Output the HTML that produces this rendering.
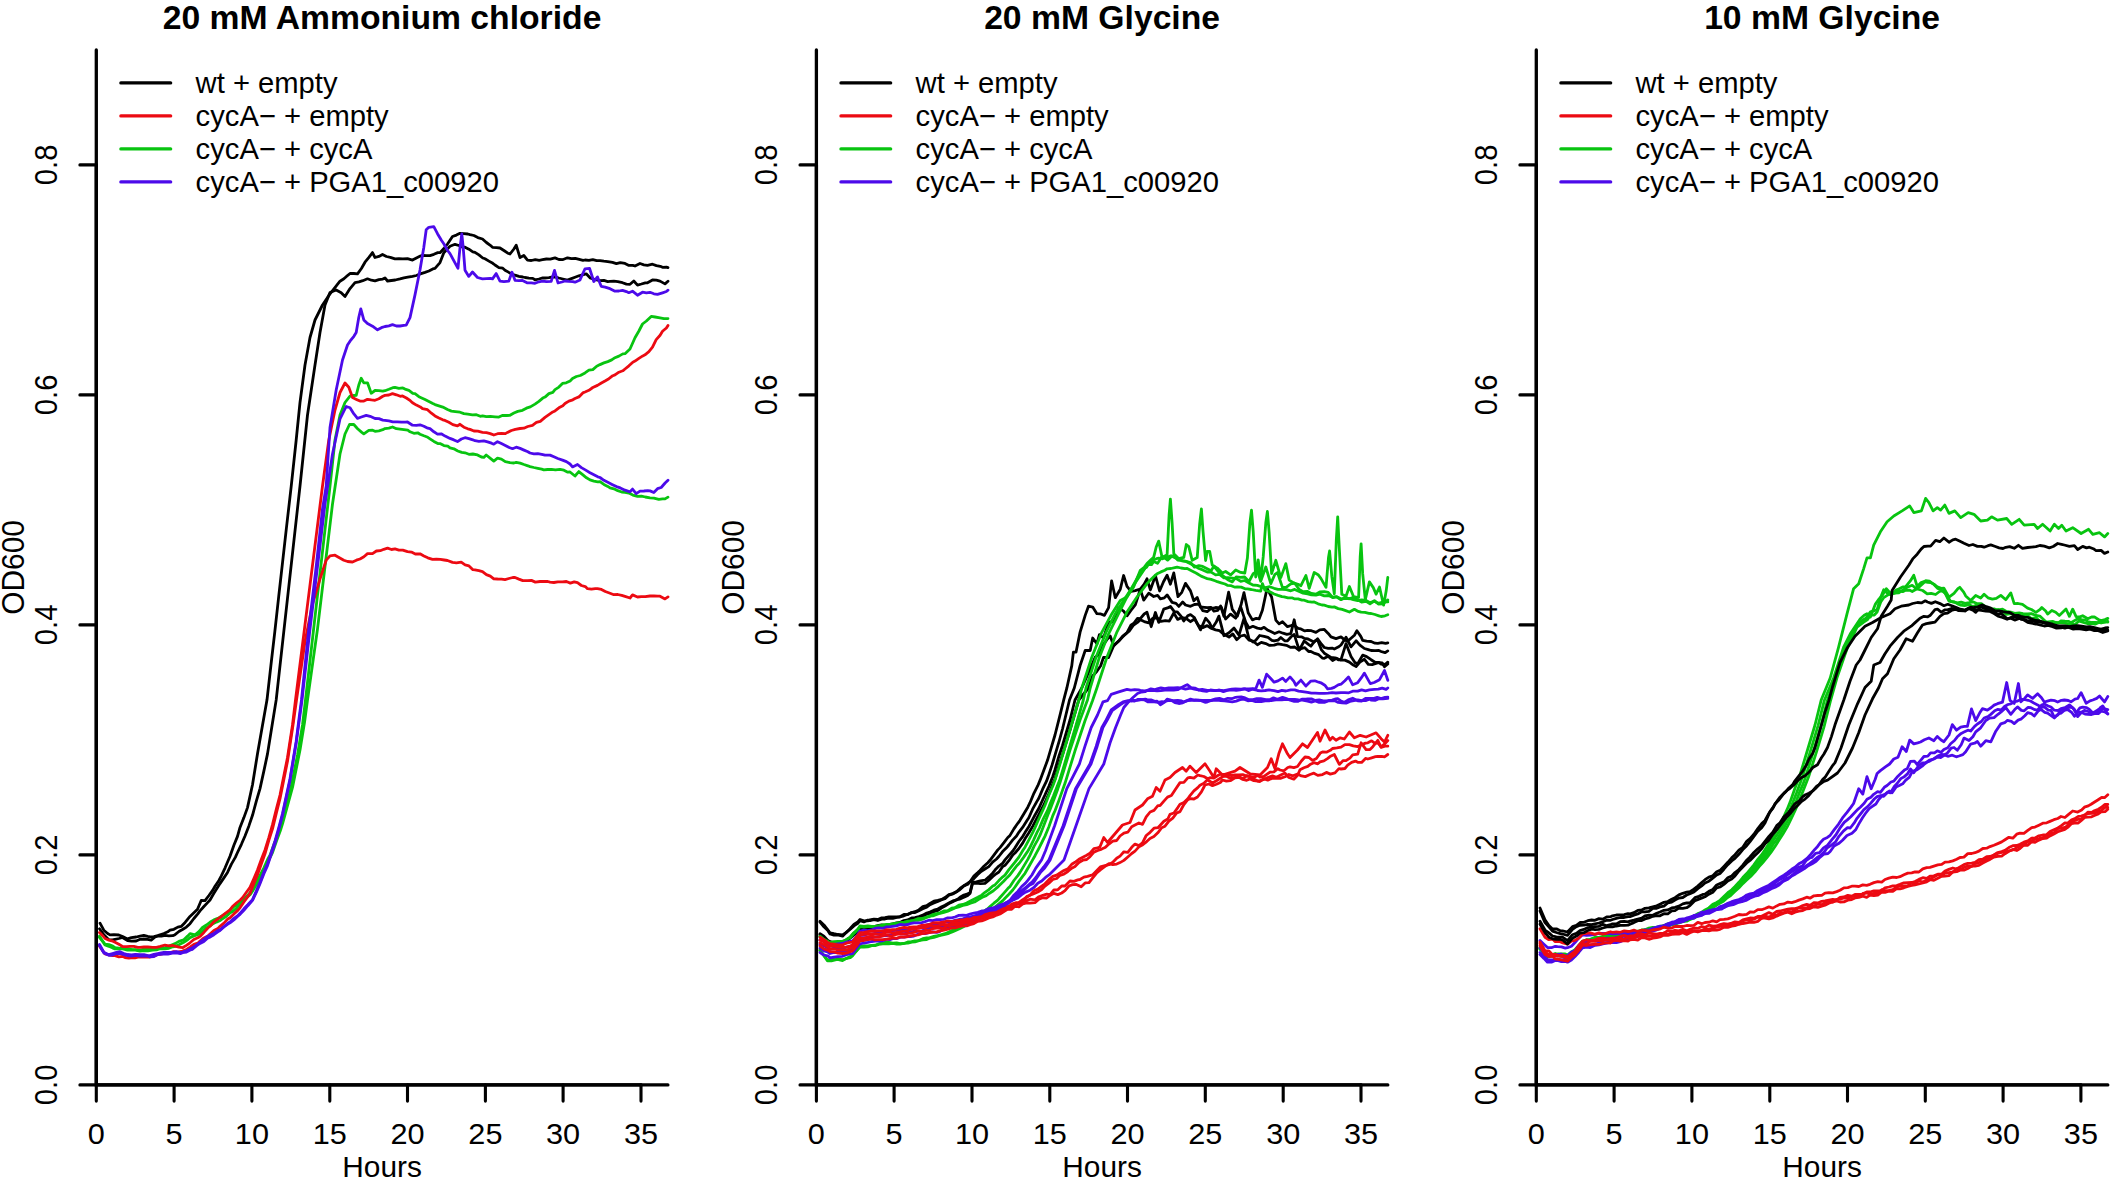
<!DOCTYPE html>
<html><head><meta charset="utf-8"><title>Growth curves</title>
<style>html,body{margin:0;padding:0;background:#fff}svg{display:block}text{font-family:"Liberation Sans",Arial,Helvetica,sans-serif;fill:#000}</style></head><body>
<svg width="2113" height="1184" viewBox="0 0 2113 1184">
<rect width="2113" height="1184" fill="#fff"/>
<g id="panel1">
<g fill="none" stroke-width="2.8" stroke-linejoin="round" stroke-linecap="round">
<polyline stroke="#000000" points="100,923.2 103.8,930.2 107.6,933.5 110,934.9 113.9,934.7 118.8,935 122.6,936.5 127.5,938.9 131.4,937.7 136.2,937 140.1,936.1 143.8,935.3 147.6,936.3 150,936.8 153.9,936.6 157.8,935.6 160,934.8 163.9,933.6 167.8,931.8 170,930.2 173.9,929.3 177.8,927.1 181.2,926.4 185.1,922.4 190,916.4 193.9,912.7 197.5,909.2 201.2,900.5 205,900.6 208.9,895.5 212.8,890.1 215,886.2 218.9,880.5 221.2,876.1 225.1,867.8 230,856.3 233.9,845.2 237.5,836.4 240,827.4 243.9,817.6 247.5,807.6 252.5,784.7 257.5,753.7 262.5,725.3 267,699.8 270.9,665.5 274.8,631.9 278.7,596.7 282.5,562.9 286.4,528.2 291.2,486.3 296.2,440 300,402.5 305,365 310,337.5 315,320 322.5,305 330,293.8 340,281.2 343.9,278.8 347.8,275.3 350,273.5 353.9,273.5 357.5,273.8 361.4,268.5 365,262.2 368.9,257.4 372.5,252.6 375,257.5 378.9,256.4 382.5,254.5 386.4,256.5 390.3,257.3 395,258.8 398.9,258.7 402.8,258.9 407.5,258.7 412.5,260.1 416.4,258 420.3,256.1 422.5,255.3 426.4,255.7 430,255.6 433.9,254.3 437.8,252.6 440,252.7 443.9,248.5 447.5,244 452.5,236.5 456.4,235.1 460,233.3 463.9,233.6 467.8,234 470,234.6 473.9,235.5 477.8,237.6 482.5,239 486.4,242.5 490.3,245.3 492.5,247.3 496.4,247.6 500,248 503.9,250.5 507.8,253.2 510,254 513.9,249 516.2,245.2 520,257.6 523.8,255.5 527.5,260.1 531.4,260.5 535.3,259.6 539.2,260.3 542.5,259.7 546.4,259 550.3,259.2 555,257.9 558.9,259.5 562.5,259.7 567.5,257.8 571.4,258.7 575.3,258.3 579.2,259.4 583,260.4 585,260 588.9,260.4 592.8,259.6 596.7,260.6 600,260.6 603.9,261.2 607.8,261.6 612.5,262.4 616.4,263.6 620.3,262.6 625,263.4 628.9,265.4 632.8,265.3 635,266 640,263.5 643.9,264.8 647.5,265.3 652.5,264.2 656.4,265.6 660.3,266.3 662.5,267.3 666.4,267.1 668,267.6"/>
<polyline stroke="#000000" points="99.5,928.8 103.8,934.7 108.8,939.7 112.6,939.9 115,939.3 118.9,938.5 122.5,937.5 127.5,940.6 131.4,941.2 136.2,941 140.1,939.3 143.8,939 147.6,939.3 151.2,940.2 155.1,937 157.5,936.2 161.4,936.2 165,935.3 168.9,935.9 172.8,935.7 175,934.7 178.9,931.5 182.5,929.5 186.4,927.1 190,923.7 193.9,918.5 197.8,913.9 200,910.9 203.9,906.5 207.8,902.4 210,900 213.9,893.3 217.8,887 220,883.6 223.9,877.9 227.5,872.4 231.4,864.1 235.3,857.4 237.5,852.5 241.4,844.3 245,836 248.9,825.9 252.5,815.3 256.4,800.9 260,788.6 263.9,770.9 267.5,753.9 272.5,722.8 276.2,699.9 300,486 307.5,415 315,365 320,332.5 325,305 330,292.5 336.2,290 341.2,292.7 345,296.4 350,288.6 355,282.6 358.9,281.9 362.8,280.7 367.5,278.8 371.4,280.2 375,280.9 378.9,279.6 382.8,279.1 385,277.9 387.5,281 391.4,280.5 395.3,280 400,278.9 403.9,277.8 407.8,277.1 412.5,276.3 416.4,275.5 420.3,273.9 425,272.4 428.9,271 432.8,268.9 435,268.4 440,262.6 443.8,252.8 447.6,248.7 450,246.2 455,244.3 458.9,245.5 462.8,247.1 465,247.2 468.9,249.2 472.8,251.8 475,252.3 478.9,254.9 482.8,258 485,258.8 488.9,261.1 492.8,263.3 495,265 498.9,267.6 502.8,268.2 505,270.2 508.9,272.4 512.8,274.4 515,275.2 518.9,276.4 522.8,277 525,277.5 528.9,278.2 532.8,278.4 535,279.8 538.9,279 542.8,277.9 545,278 548.9,277.6 552.8,277 555,276.9 558.9,278 562.8,279 567.5,280.1 571.4,278.6 575,277.2 578.9,275.8 582.5,274.8 586.2,273.8 590,277.8 593.9,279.1 597.8,280.2 600,280.7 603.9,280.4 607.8,281.6 610,281.4 613.9,281.2 617.8,281.7 622.5,282.7 626.4,284.1 630,284.3 633.8,281 637.5,285.1 641.4,284 645.3,282.8 647.5,282.8 652.5,280 656.4,280.2 660,281.1 665,283.9 668,281.2"/>
<polyline stroke="#08C410" points="99.5,936.2 103.4,942.2 105,944.1 108.9,944.6 112.8,946.1 115,947.7 118.9,948.2 122.8,948.5 127.5,948.6 131.4,949.3 135.3,949.7 140,950.1 143.9,949.1 147.8,949.1 152.5,948.7 156.4,948.7 160.3,948.7 165,947.8 168.9,946.1 172.8,944.5 175,943.6 178.9,941.4 183.8,939.7 187.6,936.1 190,933.6 195,934.9 198.9,931.7 202.5,927.5 206.4,925 210,922.3 213.9,919.9 217.8,918.4 220,917.2 223.9,914.6 227.8,912.4 230,910.1 233.9,906.6 237.8,904.7 240,902.7 243.9,898.9 247.8,895.3 250,892.7 253.9,886.1 257.8,878.7 260,875.3 263.9,867.9 267.8,859 270,855.2 273.9,844.6 277.8,833.6 280,827.5 290,792.5 297.5,755 302.5,725 305.5,700 330,486 335,440 340,415 345,402.5 350,396.2 353.9,395.5 356.2,395.3 358.8,385 361.2,378.3 363.8,382.9 367.5,382.8 371.2,393.3 375,390.5 378.9,390.6 382.8,391.2 385,390.7 388.9,389.3 392.8,387.7 395,387.4 398.9,388.3 402.8,387.9 405,389.1 408.9,390.3 412.8,393.3 415,393.6 418.9,396.7 422.8,398.5 425,399.5 428.9,401.5 432.8,403.6 435,404.6 438.9,405.8 442.8,407.1 447.5,409.5 451.4,411.1 455.3,411.6 460,412.2 463.9,413.6 467.8,414.1 472.5,414.8 476.4,414.7 480.3,416.3 482.5,415.9 486.4,416.7 490.3,416.4 495,416.8 498.9,417.1 502.8,415.3 506.7,415.5 510,415.3 513.9,413 517.8,411.4 522.5,410.3 526.4,408.2 530.3,406.9 535,404.1 538.9,401.4 542.8,398.1 545,397.1 548.9,393.6 552.8,392.3 555,389.6 558.9,387.1 562.5,383.4 566.2,382.8 570.1,380.9 572.5,378.5 576.4,376.5 580.3,375.5 585,372.9 588.9,370.2 592.8,369.6 596.7,366.2 600,364.6 603.9,362.9 607.8,361.6 611.7,359.9 615,357.7 618.9,356.1 622.8,353.9 625,353.7 630,349 635,337.7 638.9,331 642.5,324 646.4,321 651.2,316.4 655.1,317 660,317.8 663.9,318.6 668,318.6"/>
<polyline stroke="#08C410" points="99.5,937.5 103.4,942.4 105,945 108.9,946.3 112.8,948.1 115,948.8 118.9,948.5 122.8,948.8 127.5,950.2 131.4,949.9 135.3,950.1 140,951.1 143.9,950.5 147.8,950.8 152.5,950 156.4,949.8 160.3,948.7 165,948.8 168.9,948.3 172.8,946.8 175,946.4 178.9,944.8 183.8,942.2 187.6,939.8 190,937.6 193.9,935.9 197.5,934.7 201.4,932.3 205,928.7 208.9,926.5 212.5,924 216.4,922.1 220.3,920.5 222.5,918.7 226.4,916.3 230.3,912.8 232.5,911.6 236.4,908.4 240.3,903.9 242.5,902.2 246.4,897.7 250.3,894.4 252.5,891.2 256.4,884.6 260.3,877.4 262.5,873.8 266.4,865.3 270.3,857 272.5,852.6 276.4,841.4 280.3,830.7 282.5,823.9 292.5,787.5 300,750 304.5,722.5 307.5,700 317.5,629 325,566.5 332.5,504 340,454 345,434 349.5,424.5 353.8,424.5 357.6,428.7 361.5,432.1 363.8,433.9 368.8,430.4 372.6,430.2 375,431.3 378.9,430.8 382.8,429.7 385,428.6 388.9,428.2 392.5,427 396.4,428.7 400,429.1 403.9,429.6 407.8,430.2 410,431.8 413.9,433.3 417.8,432.8 420,434.2 423.9,435.8 427.8,437.3 430,438.8 433.9,441.4 437.8,443.5 440,443.6 443.9,445.6 447.8,446.2 450,447.9 453.9,448.8 457.8,451 461.7,452.4 465,452.8 468.9,454.3 472.8,454 477.5,454.9 481.4,457 483.8,457.4 486.2,455 490.1,458.1 493.8,461.1 497.5,458.2 501.4,459.1 505.3,461.7 510,462.6 513.9,463 516.2,462.3 520.1,463.1 524,464.5 527.9,465.8 530,466.6 533.9,467.5 537.8,468.3 541.7,469.2 543.8,469.9 547.6,469.5 551.5,469.4 555.4,469.9 560,469.3 563.9,470.2 567.8,472.2 570,472 575,476 578.8,471.6 582.6,474.7 586.5,477.8 590,479.9 593.9,481.1 597.8,481.8 600,481.6 603.9,484.4 607.8,486.4 610,487.9 613.9,488.8 617.8,490.7 621.7,492 625,492.4 628.9,493.1 632.8,495.1 637.5,496.4 641.4,496.1 645.3,497 650,497.8 653.9,498.2 658.8,499.4 662.6,498.9 665,498.9 668,497.1"/>
<polyline stroke="#EC0A12" points="99.5,932.5 103.4,936.5 105,938.5 108.9,940.1 112.8,941.2 115,942.2 118.9,944.3 122.5,946.5 126.4,946.7 130,946.4 133.9,946.3 137.8,947.3 140,947.3 143.9,947 147.8,946.9 152.5,947.3 156.4,947.3 160.3,946.4 165,945.2 168.9,945.9 172.8,945.5 175,946.1 178.9,947.1 182.5,947.7 186.4,945.4 190,942.8 193.9,939.5 197.8,937.8 200,936.4 203.9,932.4 207.8,928 210,926.2 213.9,921.8 217.5,919.1 221.4,916.5 225.3,913.4 230,909.9 232.5,906.5 236.4,903 240.3,900 242.5,897.7 246.4,892.3 250,887.4 253.9,878.6 257.5,870 261.4,859.2 265,849.9 268.9,837.5 272.5,824.7 276.4,808.8 280,795.1 287.5,757.5 292.5,725 295.5,700 322.5,486 328.8,440 335,410 340,392.5 345,383 348.8,387.3 352.5,397.5 356.4,399.4 360,401.1 363.9,401.1 367.5,399.3 371.4,399.9 375,400.3 378.9,398.8 382.8,396.3 385,395.4 388.9,395 392.5,393.6 396.4,394.8 400.3,396.3 402.5,395.9 406.4,398 410.3,400.7 412.5,402.7 416.4,405.1 420.3,406.9 422.5,408.6 427.5,409.7 431.4,413.2 435,415.9 438.9,418 442.8,419.8 445,420.4 448.9,422.3 452.8,424.6 457.5,425.9 460,424.3 463.9,427.2 467.8,428.8 470,429.4 473.9,431 477.8,431.2 482.5,432.3 486.4,432.7 490.3,433.6 493.8,435 497.6,433.7 501.5,433.4 505.4,433.6 507.5,432.4 511.4,430.5 515.3,429.4 520,428.5 523.9,428.2 527.8,426.5 532.5,425.3 536.4,422.4 540.3,421.3 545,417.4 548.9,414.6 552.8,411.9 555,410.9 558.9,407.8 562.8,405.7 565,403.5 568.9,401.1 572.8,399.8 575,398.5 578.9,396.9 582.8,392.9 585,392 588.9,390.3 592.8,387.5 597.5,385.4 601.4,383 605,381 608.9,378.7 612.8,375.7 615,374.9 618.9,372.2 622.8,370.8 625,369 628.9,365.8 632.8,362.2 635,361.1 638.9,358.4 642.8,355.9 645,354.8 648.9,351.7 652.5,347.2 656.2,339.6 660.1,335.2 662.5,331.3 666.4,328 668,325.4"/>
<polyline stroke="#EC0A12" points="99.5,946.2 103.4,951.7 105,953.9 108.9,954.8 112.8,955.7 115,955.7 118.9,956.9 122.8,956.4 125,957.5 128.9,958.1 132.8,957.7 135,957.8 138.9,956.8 142.8,957.2 146.7,956.8 150,957 153.9,956.1 157.8,954.4 160,954.3 163.9,953.4 167.8,953.5 170,952.7 173.9,951.6 177.8,952.1 182.5,951 186.4,949.5 190,947.2 193.9,944.4 197.8,943.2 200,941 203.9,937.9 207.8,936.1 210,934 213.9,930.5 217.8,928.6 220,926.3 223.9,923.1 227.8,919 230,917.8 233.9,913.9 237.8,910.4 240,907.8 243.9,901.9 247.8,896.6 250,893.5 253.9,883.5 257.5,874.7 261.4,863.7 265,853.8 268.9,840.1 272.5,828.9 276.4,813 280,798.6 287.5,761.2 293,725 296.5,700 305,641.5 312.5,604 320,579 326.2,560.2 330,555.8 335,555.2 343.8,560.2 347.6,561.5 352.5,562 356.4,560.2 360,559 363.9,556.7 367.5,553.6 372.5,553.6 376.4,551 380.3,550.7 383.8,549.3 387.6,548.2 391.5,549.5 395,548.9 398.9,550.1 402.8,550.1 407.5,551.6 411.4,552.1 415.3,554 420,553.8 423.9,556 427.8,557.8 432.5,559.4 436.4,559.1 440.3,559.4 444.2,560 447.5,560.5 452.5,562.4 456.4,562.8 461.2,562.2 465.1,564.9 469,565.9 472.9,569.7 475,569.9 478.9,570.6 482.5,571.6 486.4,574.6 490.3,576.1 493.8,578.8 497.6,579 501.5,579.1 505,579.6 508.9,578.5 512.8,577.5 515,577.5 518.9,579.1 522.8,580.6 527.5,580.7 531.4,580.4 535.3,582.1 540,581.5 543.9,581.5 547.8,581.5 550,582.1 553.9,582.5 557.8,581.9 562.5,581.9 566.4,581.5 570.3,583.1 574.2,581.8 577.5,582.7 581.4,585.5 585.3,586.6 587.5,588.7 591.4,589.2 595.3,588.7 597.5,588.7 601.4,589.4 605.3,591.5 610,593.2 613.9,594.7 617.8,594.5 621.7,595.4 625,596.4 630,598 632.5,594.9 637.5,597 641.4,596.7 645.3,596.7 650,596 653.9,595.9 657.8,596.2 660,596.2 665,598.9 668,596.9"/>
<polyline stroke="#4C0AEA" points="99.5,944.5 103.8,952.2 108.8,954.7 112.6,953.6 116.5,952.4 120,951.7 123.9,953.5 127.5,954.5 131.4,954.9 135.3,954.3 140,954.7 143.9,954.6 147.8,955.7 150,955.7 153.9,954.4 157.8,953.6 160,953.1 163.9,952.3 167.8,952.5 172.5,952.2 176.4,951.7 180.3,952.4 182.5,952.1 186.4,950.9 190.3,948.7 192.5,947.7 196.4,945.3 200,942.2 203.9,939.4 207.8,936.4 210,935.3 213.9,933.4 217.8,930.5 220,929.8 223.9,926.7 227.8,923.3 230,922.1 233.9,918.3 237.8,915.6 240,913.3 243.9,908.8 247.8,904.8 252.5,899.6 256.4,890.9 260,882.3 263.9,871.9 267.5,863.7 271.4,852.2 275,841.1 278.9,827.1 282.5,813.5 290,778.8 296.2,741.2 299.5,715 301.5,700 308.8,629 316.2,566.5 322.5,509 326.2,486 330,427.5 336.2,390 342.5,360 347.5,345 350,341.2 353.9,336.3 356.2,332.5 358.8,317.3 360.8,308.8 363.8,319.9 367.5,323.6 372.5,326.2 377.5,329.8 381.4,327.7 385,326.5 388.9,325.8 392.5,324.7 396.4,326 400,326 403.9,325.3 406.2,325.2 410,317.6 415,294.9 420,269.9 423.8,247.4 426.2,229.8 428.8,227.3 433.8,226.7 437.5,233.7 441.4,240.3 443.8,243.7 447.6,250.5 450,253.6 455,262.8 458,268.2 460,247.6 461.8,234 463.2,247.5 465,270.2 468.8,276.4 472.5,272 477.5,277.5 482.5,278.9 486.4,278.6 490.3,278.3 492.5,278.9 496.2,273.6 500,281.2 503.9,281.6 508.8,281.1 512,272.2 515,280.3 518.9,280.6 522.5,280.4 527.5,282.9 531.4,282.9 535,283.3 538.9,281.8 542.5,281.2 546.4,281.7 551.2,281.3 554.5,270.4 558,283 561.9,282 565,281 568.9,281.4 572.8,281.6 575,282.2 580,279.9 585,268.8 589.5,268.3 593.8,281.5 597.5,276.9 601.2,286.3 605.1,287.1 610,288.7 615,291.2 618.9,291 622.5,290.3 626.4,291.6 628.8,292.7 632.5,291.2 637.5,295.2 642.5,292.2 646.4,292.8 650,292.3 653.9,293.8 657.5,294.4 662.5,292.8 666.4,291.5 668,290.2"/>
<polyline stroke="#4C0AEA" points="99.5,945.5 103.8,952.9 108.8,955.3 112.6,955 116.5,953.5 120,953.5 123.9,954.6 127.5,955.7 131.4,956 135.3,955.4 140,956 143.9,955.8 147.8,956.2 150,956.9 153.9,956.5 157.8,954.5 160,954.3 163.9,954.2 167.8,954.2 172.5,953.1 176.4,952.9 180.3,953.7 182.5,952.7 186.4,952.1 190.3,950 192.5,949.3 196.4,945.9 200,943.4 203.9,941.4 207.8,938 210,937.1 213.9,934.7 217.8,931.8 220,930.5 223.9,927 227.8,924.1 230,922.8 233.9,919.9 237.8,916.3 240,914.4 243.9,910.3 247.8,905.7 252.5,900.4 256.4,892.1 260,883.6 263.9,873.8 267.5,865.6 271.4,853.9 275,843.3 278.9,829.1 282.5,815.4 290,780.5 296.2,743 300,715 302,700 310,629 317.5,566.5 325,504 332.5,454 340,419 346.2,406.5 350,407.8 353.9,413.9 357.5,418.3 361.4,417 366.2,415.4 370.1,416.3 375,418.5 378.9,418.6 382.8,420.1 385,420.4 388.9,420.9 392.8,421.8 397.5,421.9 401.4,422.2 405.3,422.1 407.5,422 412.5,425.2 416.4,425.3 420,424.8 423.9,426.2 427.8,428.2 430,428.7 433.9,431.8 437.5,434.1 441.2,433.8 445.1,436.1 450,438.4 453.9,439.9 457.5,441.6 461.4,439 465,437.7 468.9,438.6 472.8,439.8 475,440.7 478.9,441.3 483.8,440.8 487.6,441.9 491.5,443.2 493.8,444.2 497.5,441.7 501.4,443.6 505.3,445.4 509.2,447.5 512.5,448.7 516.2,447.2 520.1,448.4 524,450.1 527.9,451.7 530,453 533.9,453.9 537.8,453.6 541.7,454.3 545,455.1 550,455.1 553.9,456.8 557.8,458.5 562.5,460.1 566.4,461.6 570,464 572.5,466.9 577.5,464.5 581.4,467.6 585.3,469.9 590,472.8 593.9,474.8 597.8,476.8 600,477.5 603.9,480.3 607.8,482.3 612.5,484.7 616.4,486.6 620.3,487.9 625,490.2 630,491.8 632.5,489.1 636.2,493.7 640,491.2 643.9,491 647.8,490.7 650,490.9 653.8,492.5 657.5,488.7 661.2,487.5 665.1,483 668,480.2"/>
</g>
<g fill="none" stroke="#000" stroke-width="3.3" stroke-linecap="round">
<path d="M96.3,49.9V1084.9H667.9"/>
<path d="M96.3,164.9V1084.9M96.3,1084.9H641"/>
<path stroke-width="3.1" d="M96.3,1084.9v16.2M174.1,1084.9v16.2M251.9,1084.9v16.2M329.8,1084.9v16.2M407.5,1084.9v16.2M485.4,1084.9v16.2M563.1,1084.9v16.2M641,1084.9v16.2M96.3,1084.9h-16.4M96.3,854.9h-16.4M96.3,624.9h-16.4M96.3,394.9h-16.4M96.3,164.9h-16.4"/>
</g>
<g font-size="29.2" text-anchor="middle">
<text transform="translate(96.3,1143.6) scale(1.05,1)">0</text>
<text transform="translate(174.1,1143.6) scale(1.05,1)">5</text>
<text transform="translate(251.9,1143.6) scale(1.05,1)">10</text>
<text transform="translate(329.8,1143.6) scale(1.05,1)">15</text>
<text transform="translate(407.5,1143.6) scale(1.05,1)">20</text>
<text transform="translate(485.4,1143.6) scale(1.05,1)">25</text>
<text transform="translate(563.1,1143.6) scale(1.05,1)">30</text>
<text transform="translate(641,1143.6) scale(1.05,1)">35</text>
<text transform="translate(56.9,1084.9) rotate(-90) scale(1,1.06)">0.0</text>
<text transform="translate(56.9,854.9) rotate(-90) scale(1,1.06)">0.2</text>
<text transform="translate(56.9,624.9) rotate(-90) scale(1,1.06)">0.4</text>
<text transform="translate(56.9,394.9) rotate(-90) scale(1,1.06)">0.6</text>
<text transform="translate(56.9,164.9) rotate(-90) scale(1,1.06)">0.8</text>
<text x="382.1" y="1177" textLength="79.6" lengthAdjust="spacingAndGlyphs">Hours</text>
<text transform="translate(23.8,567.4) rotate(-90) scale(1,1.07)" textLength="94.6" lengthAdjust="spacingAndGlyphs">OD600</text>
</g>
<text x="382.1" y="29" font-size="33.7" font-weight="bold" text-anchor="middle">20 mM Ammonium chloride</text>
<g stroke-width="3.4" stroke-linecap="round" font-size="29.2">
<line x1="120.9" y1="82.9" x2="170.6" y2="82.9" stroke="#000000"/>
<text x="195.6" y="92.8">wt + empty</text>
<line x1="120.9" y1="115.9" x2="170.6" y2="115.9" stroke="#EC0A12"/>
<text x="195.6" y="125.8">cycA− + empty</text>
<line x1="120.9" y1="148.9" x2="170.6" y2="148.9" stroke="#08C410"/>
<text x="195.6" y="158.8">cycA− + cycA</text>
<line x1="120.9" y1="181.9" x2="170.6" y2="181.9" stroke="#4C0AEA"/>
<text x="195.6" y="191.8">cycA− + PGA1_c00920</text>
</g>
</g>
<g id="panel2">
<g fill="none" stroke-width="2.8" stroke-linejoin="round" stroke-linecap="round">
<polyline stroke="#000000" points="820,921.2 823.9,924.9 827.8,929.9 830,932.8 833.9,933.7 837.8,934.5 842.5,934.9 846.4,932.4 850,928.8 853.9,924.5 857.8,921.9 860,919.5 863.9,920.9 867.8,920.9 870,919.8 873.9,919.1 877.8,919.5 881.7,917.9 885,917.7 888.9,916.9 892.8,916.8 896.7,916.9 900,916.7 903.9,914.4 907.8,914.6 911.7,912.5 915,911.7 918.9,909.9 922.8,906.7 926.7,905.7 930,903.4 933.9,901.1 937.8,900.3 941.7,899.4 945,897.6 948.9,894.6 952.8,893.6 956.7,891.5 960,888.5 963.9,885.7 967.8,883.2 970,881.7 973.9,876.1 977.8,872.6 980,870.5 983.9,866.3 987.8,862.7 990,860.3 993.9,855.2 997.8,849.9 1000,847.6 1003.9,842.7 1007.8,837.5 1010,835.4 1013.9,828.9 1017.8,823.3 1020,820.3 1023.9,813.8 1027.8,807.2 1030,802.7 1033.9,793.3 1037.8,785.7 1040,780.4 1043.9,770.1 1047.5,760.3 1051.4,747.1 1055,735 1060,715.1 1063.8,699.6 1066.8,688.2 1071.8,665.6 1073.4,652.2 1076,652.2 1080.1,632.1 1085.2,615.4 1088.5,606.2 1092.7,607.1 1096.9,613.7 1100.2,613.8 1104.4,615.4 1108.6,607.7 1111.6,580.8 1115.3,597.7 1120.3,589.2 1123.6,575.5 1127,586.3 1131.1,591.5 1135.3,590.6 1140.3,589 1144.2,584.1 1147,578.8 1150.4,589.9 1155.4,575.7 1159.6,591 1163.5,581.8 1167.1,575.3 1170.4,584.2 1173.8,572.9 1178,596.7 1181.8,592.3 1185.5,583.4 1190.5,590.9 1193.8,600.7 1197.2,597.4 1200.5,607 1204.4,607.3 1207.2,607.6 1211.1,607.3 1213.9,611.1 1217.8,610.3 1220.6,605.9 1223.9,616.3 1228.6,592.2 1232.3,609.4 1237.3,616.2 1241.2,604.2 1244,592.7 1248.2,612.7 1252.4,619.9 1256.3,618.3 1259.1,618.9 1262.4,610.3 1267.1,588.3 1271.6,597 1275.8,620.1 1279.1,623.9 1282.5,621.8 1287.5,626.7 1291.4,625.5 1294.2,625.3 1298.1,628.4 1300.9,628.9 1304.8,630.9 1307.6,630.3 1311.4,630.7 1315.9,632.4 1319.8,629.8 1324.3,629.4 1328.2,633.4 1331,636.9 1336,638.6 1341,636.9 1344.9,640.1 1347.7,641.1 1351.6,637.7 1354.4,635.2 1356.9,630.7 1360.8,636.4 1362.7,640.3 1366.6,641.2 1371.1,641.5 1375,643.2 1377.8,643.4 1381.7,642.7 1385.6,643.4 1387.8,642.9"/>
<polyline stroke="#000000" points="820,922.2 823.9,926.8 827.8,930.4 830,934 833.9,935.1 837.8,935 842.5,936.2 846.4,932.2 850,929.5 853.9,925.9 857.8,923.3 860,920.7 863.9,921.9 867.8,920.1 870,920.7 873.9,919.7 877.8,920.5 881.7,919.2 885,919 888.9,918.2 892.8,918.4 896.7,917.4 900,917 903.9,915.8 907.8,914.3 911.7,912.6 915,912.6 918.9,910.7 922.8,908.7 926.7,907.2 930,904.6 933.9,902.9 937.8,901.4 941.7,899.7 945,898.7 948.9,895.2 952.8,893.9 956.7,891.8 960,889.6 963.9,885.9 967.8,884.3 970,881.8 973.9,878.6 977.5,874.7 981.4,871.3 985.3,868.8 988.8,866.6 992.6,862.1 996.5,859 998.8,856.5 1002.6,851.6 1006.5,847.8 1008.8,845 1012.6,840.1 1016.5,836 1018.8,832.3 1022.6,827.4 1026.5,821.2 1028.8,817.7 1032.6,809.2 1036.5,802.1 1038.8,798.3 1042.6,789.2 1046.5,781.2 1048.2,776.6 1052.1,764.9 1055.5,753.4 1059.4,740.3 1062.5,729 1069.5,700 1074.3,688 1080.1,665.6 1085.2,650.5 1090.2,650.5 1092.7,638 1096.9,643.8 1099.4,634.7 1103.5,638 1108.6,622.7 1113.6,621.1 1118.6,607.9 1123.6,611.1 1127,615.8 1131.1,610.2 1135.3,604.9 1140.3,589.3 1143.7,600.1 1148.7,593.2 1153.7,596.5 1157.6,595.4 1160.4,598.8 1164.3,597.9 1167.1,594.9 1172.1,602.4 1176,603.4 1178.8,606.4 1182.7,602 1185.5,605 1190.5,606.3 1194.4,604.5 1198.9,604.2 1202.7,610.6 1207.2,611.6 1211.1,608.5 1215.6,607.5 1219.5,608 1221.4,607.4 1225.6,619 1230.6,614.1 1235.7,618.2 1240.7,606.9 1245.7,622.3 1249,628 1252.9,626.3 1257.4,628.1 1261.3,628.8 1264.1,627.3 1268,630.3 1270.8,631.6 1274.7,633.5 1279.1,631.8 1283,633.2 1286.9,634.4 1290.8,633.7 1294.2,619.8 1297.5,636.7 1301.4,636.8 1304.2,638.3 1308.1,639 1312,640.9 1314.2,642 1317.6,638.8 1321.5,644.2 1324.3,647.5 1328.2,648.4 1332.1,648.1 1334.3,649.1 1338.2,647.1 1341,645 1346,637.2 1351,646.9 1356.1,640.8 1359.9,645.1 1364.4,648.5 1368.3,649.6 1371.1,650.5 1375,650.6 1378.9,650.5 1381.1,651.5 1385,652.7 1387.8,650.9"/>
<polyline stroke="#000000" points="820,933.8 823.9,936.3 827.8,940.4 830,941.7 833.9,942.6 837.8,942.5 842.5,942.4 846.4,940.1 850,937.6 853.9,933.2 857.8,930.8 860,928.9 863.9,928.3 867.8,928.5 870,927.7 873.9,926.6 877.8,925.7 881.7,924.8 885,925.3 888.9,924.7 892.8,923.9 896.7,922.9 900,922.5 903.9,920.6 907.8,920 911.7,917.9 915,917.6 918.9,916.5 922.8,915.2 926.7,913.1 930,912.1 933.9,910.2 937.8,909 941.7,906.7 945,905.2 948.9,902.9 952.8,900.9 956.7,900 960,897.2 963.9,895 967.8,893.8 970,892.6 972.5,882.4 976.4,881.8 980.3,880.8 985,880.2 988.9,876.9 992.8,872.9 995,870.1 998.9,866.1 1002.8,863.1 1005,859.9 1008.9,855.4 1012.8,851 1015,847.7 1018.9,841.5 1022.8,836.3 1025,832.6 1028.9,826.5 1032.8,819.1 1035,815 1038.9,808.2 1042.8,799.5 1045,794.9 1048.9,786.2 1052.8,776.5 1055,769.7 1058.9,756.2 1062.5,745.4 1070,720 1075,700 1081.8,688 1095.2,657.2 1099.1,654.4 1103,645.3 1106.9,639.6 1110.2,636.1 1113.6,645.4 1118.6,641.2 1122.5,637.1 1127,632.7 1130.8,625.3 1133.6,623.5 1137.5,618.4 1140.3,618.7 1144.2,614 1147,612.3 1151.2,626.7 1155.4,612.5 1158.7,622.4 1163.7,609.2 1167.6,607.9 1170.4,606.4 1174.3,611.6 1177.1,611.8 1181,616.1 1183.8,621 1187.7,615.8 1190.5,614.6 1194.4,617.5 1197.2,623.7 1200.5,629.9 1205.6,618.2 1209.4,622.7 1212.2,628.3 1216.1,622.3 1218.9,616.1 1223.9,635.7 1229,632.7 1234,628.1 1239,635.1 1244,618.3 1249,638.8 1252.9,642 1255.7,640.4 1259.6,635.5 1264.1,636.4 1268,637.4 1271.9,640.3 1274.1,640.9 1278,640.1 1280.8,637.5 1284.7,640.8 1287.5,640.8 1291.4,636.5 1294.2,634.4 1299.2,650.1 1304.2,641 1308.1,644.2 1310.9,646.2 1314.8,641 1317.6,639.9 1321.5,649.9 1324.3,653.2 1328.2,655.6 1331,657.4 1334.9,657.8 1338.7,659.9 1341,659.7 1346,643.6 1351,656.6 1354.9,662.6 1357.7,663.8 1362.7,655.1 1366.6,656.6 1371.1,659.7 1375,662.2 1378.9,662.4 1381.1,664 1385,664.5 1387.8,662.2"/>
<polyline stroke="#000000" points="820,934.8 823.9,938.9 827.8,941.1 830,943.2 833.9,943.6 837.8,942.7 842.5,943.1 846.4,941.1 850,938.1 853.9,934.9 857.8,932.5 860,930.1 863.9,928.5 867.8,927.9 870,928.2 873.9,928.5 877.8,926.3 881.7,926 885,925.6 888.9,924.6 892.8,924.8 896.7,923.4 900,923.4 903.9,922.7 907.8,921.4 911.7,919.4 915,918.8 918.9,917.3 922.8,916.6 926.7,914.1 930,913.4 933.9,911.7 937.8,910.5 941.7,907.9 945,906 948.9,903.6 952.8,901.7 956.7,899.6 960,899 963.9,897.3 967.8,895.4 970,893.5 972.5,883.7 976.4,883.2 980.3,883.6 985,883.4 988.9,880.2 992.8,876.5 995,874.6 998.9,872 1002.8,866.4 1005,865.3 1008.9,860.7 1012.8,854.9 1015,853 1018.9,848.5 1022.8,842.9 1025,838.8 1028.9,832.8 1032.8,826.1 1035,821.8 1038.9,814.5 1042.8,807 1045,802.4 1048.9,793.9 1052.8,783.9 1055,779 1058.9,765.6 1062.5,754.9 1070,730 1078.8,700 1088.5,688 1092.4,676.3 1096.9,671.2 1100.7,665.8 1103.5,657.4 1108.6,657.5 1113.6,646 1118.6,641.1 1122.5,636.4 1125.3,634.1 1129.2,631.1 1133.6,625 1137.5,622.4 1140.3,619.8 1144.2,621.6 1148.7,622.8 1152.6,618.4 1157.1,617.8 1160.9,621.4 1165.4,620.6 1169.3,621.2 1173.8,613 1177.7,619.4 1182.1,617.5 1186,618.4 1190.5,621.7 1194.4,619 1198.9,625.9 1202.7,627.6 1207.2,625.6 1211.1,628.3 1215.6,629.9 1219.5,630.7 1223.9,634.3 1229,637.1 1232.8,633.9 1236.7,639.7 1240.7,636 1244.6,635.1 1249,640.2 1252.9,641 1257.4,644.8 1261.3,642.4 1265.8,643.6 1269.6,645.4 1274.1,645.1 1278,643.9 1282.5,644.7 1286.4,645.3 1290.8,647.4 1294.7,647 1298.6,650 1300.9,648.7 1304.8,647.7 1308.6,651.5 1310.9,651.5 1314.8,653.4 1318.7,654.7 1322.6,658.2 1324.3,658.3 1328.2,656.3 1332.6,660.5 1336.5,658.2 1341,660.2 1344.9,660.1 1349.4,662.1 1353.3,665.1 1356.1,666.5 1359.9,662.1 1364.4,659.3 1368.3,664.4 1372.2,664.6 1374.4,664 1378.3,662.6 1382.2,663 1384.5,666.7 1387.8,664"/>
<polyline stroke="#08C410" points="820,936.2 823.9,939.3 827.8,941.6 830,942.7 833.9,941.7 837.8,941.5 842.5,941.4 846.4,939.7 850,937.2 853.9,932.7 857.8,929.3 860,926 863.9,926.5 867.8,926 871.7,926.5 875,926.5 878.9,925.8 882.8,925 886.7,924.3 890.5,924.2 892.5,923.8 896.4,923.1 900.3,922.6 904.2,922.1 908,921.2 910,921 913.9,920.4 917.8,918.7 921.7,918.5 925,917.7 928.9,916.7 932.8,914.6 936.7,913.5 940,912.8 943.9,911 947.8,910.6 951.7,908.2 955,907.7 958.9,905.2 962.8,904.5 966.7,903.1 970,901.3 973.9,899.2 977.8,897.3 981.7,895.1 985,892.3 988.9,889.6 992.8,886 995,884.9 998.9,880.6 1002.8,876.8 1005,875.1 1008.9,869.6 1012.8,864.8 1015,862.2 1018.9,857.1 1022.8,850.5 1025,847.2 1028.9,839.9 1032.8,832.3 1035,827.6 1038.9,818.8 1042.8,810.1 1045,805.2 1048.9,795 1052.8,786 1055,780.1 1058.9,767.5 1062.5,755.3 1070,730 1078.8,700 1081.8,688 1091.8,657.2 1101.9,632.1 1111.9,613.7 1120.3,600.4 1127,597 1133.6,587 1140.3,570.3 1144.2,567.4 1147,563.6 1150.9,559.8 1153.7,557.2 1156.2,547 1158.7,541.1 1162.1,557.5 1167.1,554.8 1169.1,515.1 1170.4,499.1 1172.1,522.8 1173.8,553.7 1178.8,558.7 1183.8,557.4 1186.3,544.5 1188.8,546.6 1192.2,560.3 1197.2,557.6 1199.7,523.6 1201.4,508.9 1203,531.1 1205.6,560.5 1207.2,551.4 1209.7,551.4 1212.2,565 1217.3,568.1 1222.3,573 1225.6,571.5 1230.6,574.9 1235.7,569.9 1240.7,572.4 1244.8,573 1247.4,558.1 1249.9,522.8 1251.5,510.1 1253.2,531.4 1255.7,577 1258.2,559.8 1260.7,579.8 1263.2,556.9 1265.8,522.8 1267.4,511.5 1269.1,531.9 1271.6,573.5 1275.8,560.3 1280.8,577.6 1285.8,563.6 1289.2,580.1 1294.2,583.2 1298.1,584.3 1300.9,585.7 1305.9,575.5 1309.2,588.3 1314.2,572.5 1318.1,574.7 1320.9,578.4 1326,587.4 1328.5,557.5 1329.6,551 1331.8,576.2 1334.3,593.8 1336.3,540.1 1337.7,516.9 1339.3,548.3 1341.8,594.3 1346,596.3 1349.4,586.5 1353.5,596.5 1358.6,597.5 1360.2,556.6 1361.1,543.8 1362.7,573.9 1365.3,599.6 1369.4,581.9 1373.3,587.6 1376.1,594.1 1379.5,587 1383.6,605.2 1386.2,590.8 1387.8,577.4"/>
<polyline stroke="#08C410" points="820,936.8 823.9,939.7 827.8,941.4 830,943.2 833.9,943.2 837.8,942 842.5,941.9 846.4,939.6 850,937.8 853.9,933.4 857.8,929.6 860,926.5 863.9,927 867.8,926.5 871.7,926.3 875,926.7 878.9,926 882.8,925.6 886.7,925.6 890.5,925.1 892.5,924.1 896.4,924.4 900.3,923.3 904.2,923.2 908,922.5 910,921.8 913.9,920.4 917.8,920.4 921.7,919.5 925,918.1 928.9,916.2 932.8,915.9 936.7,914.5 940,913.3 943.9,912.4 947.8,911.1 951.7,909.4 955,907.9 958.9,906.8 962.8,905.5 966.7,904.6 970.5,903.2 974.5,902 978.4,899.5 982.3,897.3 986.2,895.6 989.5,893.2 993.4,890.7 997.3,887.4 999.5,885.2 1003.4,881.5 1007.3,877.4 1009.5,875.3 1013.4,870.1 1017.3,865.2 1019.5,863 1023.4,857.6 1027.3,851.9 1029.5,848.3 1033.4,840.3 1037.3,831.8 1039.5,827.8 1043.4,818.6 1047.3,811 1049.5,805.4 1053.4,796.1 1057.3,786 1059.5,780.6 1063.4,768 1067,755.6 1074.5,730.5 1083.2,700.5 1086,688 1096,657.2 1106.1,632.1 1115.3,613.7 1123.6,600.4 1133.6,585.3 1143.7,570.3 1147.6,564.3 1151.5,564.7 1153.7,561.4 1157.6,563.3 1161.5,557.2 1163.7,556.9 1167.6,560.1 1171.5,556.5 1173.8,555.6 1177.7,560 1182.1,560.7 1186,561.3 1190.5,562.5 1194.4,567.1 1198.9,565.6 1202.7,566.4 1207.2,568.8 1211.1,570.8 1213.9,566.1 1218.9,572.4 1223.9,576.5 1227.8,579.8 1232.3,581.9 1236.2,576.9 1240.7,577.3 1244.6,577 1249,581.5 1253.2,573.6 1257.4,570.9 1260.7,581.4 1265.8,567 1270.8,583.6 1274.7,574.7 1277.5,572.5 1282.5,587.6 1286.4,587.1 1290.8,583.9 1294.7,583.1 1299.2,589.5 1303.1,591.7 1307.6,591.5 1311.4,593.5 1315.9,594.2 1319.8,591.9 1324.3,591.6 1328.2,592.4 1332.6,597.5 1336.5,596.8 1341,599.7 1344.9,597.4 1349.4,598.8 1353.3,597.3 1357.7,599.7 1361.6,602.1 1366.1,601.4 1370,603.8 1374.4,600.6 1378.3,604 1382.8,603.9 1387.8,599.9"/>
<polyline stroke="#08C410" points="820,950 823.9,955.5 827.5,960.3 831.4,958.8 835.3,959.6 837.5,959 842.5,959.7 846.4,958.5 850.3,956.5 852.5,954.8 856.4,951.1 860,946.2 863.9,945.9 867.8,945.8 871.7,945.5 875,945.2 878.9,943.7 882.8,943 885,942.2 888.9,942.5 892.8,943.1 896.7,942.9 900,943.6 903.9,943.5 907.8,942 911.7,941.7 915,940.9 918.9,940.6 922.8,938.7 926.7,937.9 930,937.7 933.9,936.4 937.8,935.6 941.7,934.7 945,933.7 948.9,932 952.8,930 956.7,928.4 960,927.3 963.9,924.2 967.8,921.4 970,920.3 973.9,917.7 977.8,915.6 980,914.8 983.9,911.1 987.8,908.7 990,906.6 993.9,903.2 997.8,900.1 1000,897.5 1003.9,893.1 1007.8,888.6 1010,886.4 1013.9,880.5 1017.8,875.6 1020,872.4 1023.9,865.9 1027.8,859.4 1030,855.1 1033.9,846.7 1037.8,839.6 1040,835.2 1043.9,825.3 1047.8,815 1050,809.7 1053.9,799.4 1057.8,788.9 1060,782.5 1063.9,770.2 1067.8,757.3 1070,750.2 1080,720 1087.5,700 1090.2,688 1099.4,657.2 1108.6,633.8 1118.6,613.7 1128.6,593.7 1138.7,575.3 1142.5,569.7 1146.4,567.4 1148.7,564 1152.6,560.2 1156.5,558.7 1158.7,558.2 1162.6,558.8 1167.1,557.1 1171,555.7 1175.5,558.1 1179.3,558.5 1182.1,560.9 1186,561.4 1190.5,563.7 1194.4,565.8 1198.9,568.5 1202.7,569.9 1207.2,572 1211.1,572.1 1215.6,574.9 1219.5,574.4 1223.9,577.8 1227.8,577.7 1232.3,578.2 1236.2,578.6 1240.7,581.3 1244.6,580.5 1249,583 1252.9,585 1257.4,585.4 1261.3,586.8 1265.8,587.6 1269.6,586.7 1274.1,588.3 1278,589.3 1282.5,589.3 1286.4,589.6 1290.8,590.8 1294.7,589.4 1299.2,591.5 1303.1,593.1 1307.6,593.8 1311.4,594.9 1315.9,595.2 1319.8,594.1 1324.3,595.9 1328.2,595.5 1332.6,597.3 1336.5,596.7 1341,598.8 1344.9,598.6 1349.4,598.5 1353.3,599.7 1357.7,600.7 1361.6,600 1366.1,600.4 1370,602.7 1374.4,601.3 1378.3,603.3 1382.8,602 1387.8,601.9"/>
<polyline stroke="#08C410" points="820,950.8 823.9,955.6 827.5,960.8 831.4,960.9 835.3,960 837.5,959.5 842.5,960.6 846.4,958.3 850.3,957.6 852.5,955.9 856.4,950.9 860,947.1 863.9,947 867.8,946.9 871.7,945.7 875,945.6 878.9,944.3 882.8,943.9 885,943.5 888.9,943.9 892.8,943.4 896.7,944 900,944.2 903.9,943.4 907.8,943.2 911.7,942.1 915,941.8 918.9,940.7 922.8,939.9 926.7,939.6 930,938.1 933.9,937.4 937.8,936.2 941.7,935 945,934.4 948.9,933.3 952.8,931.7 956.7,930 960,928.5 963.9,926.6 967.8,924.1 971.7,922 975,920.8 978.9,919 982.8,917.3 985,916 988.9,912.8 992.8,909.6 995,907.1 998.9,903.9 1002.8,900.6 1005,898.2 1008.9,894.3 1012.8,890 1015,887 1018.9,881.4 1022.8,876.1 1025,873.3 1028.9,866.5 1032.8,859.6 1035,855.7 1038.9,848.3 1042.8,840.5 1045,836.1 1048.9,826.7 1052.8,815.6 1055,810.7 1058.9,800.4 1062.8,789.4 1065,783.3 1075,750.8 1085,720.8 1092.5,700.8 1096.9,688 1106.9,657.2 1116.9,632.1 1127,612.1 1137,597 1147,583.6 1150.9,579.5 1154.8,575.7 1157.1,573.8 1160.9,571.9 1164.8,570.2 1167.1,568.8 1171,568.5 1174.9,567.7 1177.1,567.2 1181,568 1184.9,568.7 1187.2,568.5 1191,570.4 1194.9,572.4 1197.2,573.8 1201.1,576.1 1205,577.7 1207.2,578.6 1211.1,579.4 1215,580.8 1217.3,581.7 1221.1,582.8 1225,584 1227.3,585.3 1231.2,585.7 1235.1,587.2 1237.3,586.8 1241.2,587.1 1245.1,588.8 1247.4,588.9 1251.2,589.5 1255.7,590.4 1260.7,591.1 1262.4,583.6 1264.9,590.2 1268.8,591.3 1274.1,594 1278,595.4 1281.9,596.7 1284.1,596.8 1288,597.8 1291.9,597.8 1294.2,598.8 1298.1,598.8 1302,600.1 1304.2,600.2 1308.1,601.6 1312,602.2 1314.2,602 1318.1,603.8 1322,605 1324.3,605.2 1328.2,606.5 1332.1,607.1 1334.3,606.9 1338.2,608.6 1342.1,609.4 1344.3,610.1 1349.4,612 1354.4,609.3 1358.3,611.4 1361.1,612.2 1365,612.4 1368.8,613.3 1371.1,613.5 1375,614.5 1378.9,615.8 1381.1,616.5 1385,615.8 1387.8,614.7"/>
<polyline stroke="#4C0AEA" points="820,940 823.9,941.4 827.8,944.4 830,945.3 833.9,944.4 837.8,943.9 842.5,943.5 846.4,942.1 850.3,941.4 852.5,941 856.4,936.6 860,931 863.9,930.1 867.8,930.6 871.7,930 875,928.4 878.9,927.9 882.8,928.4 886.7,926.9 890.5,926.7 892.5,926.4 896.4,925.9 900.3,924.4 904.2,924.9 908,924.5 910,923.7 913.9,922.9 917.8,922.8 921.7,922.6 925,921.6 928.9,920.2 932.8,920.6 936.7,919.6 940,919.6 943.9,919.3 947.8,917.8 951.7,917.9 955,917 958.9,915.4 962.8,915.2 966.7,915.4 970,914 973.9,913.1 977.8,912.4 981.7,911 985,910.6 988.9,908.6 992.8,908 996.7,906.6 1000,905 1003.9,903.8 1007.8,901.7 1010,900.3 1013.9,895.2 1017.8,891.4 1021.7,886.5 1025.5,883.1 1028,880.1 1031.9,875 1035.8,868.1 1039.7,862.6 1041.7,859.7 1045.6,850.5 1049.5,839.8 1054.7,825.5 1066.8,788.6 1079.4,764 1085,746.2 1091.2,727.5 1097.5,715 1103,701.9 1107.5,700.6 1111.2,694.4 1118.8,691.9 1127,689.3 1130.8,690.1 1134.7,689.7 1138.6,689.9 1140.3,690.4 1144.2,690.8 1148.1,690.5 1152,690.3 1157.1,690.9 1160.9,690.6 1164.8,690 1168.7,689.8 1173.8,690.2 1177.7,689.7 1181.6,687.4 1185.4,685.6 1187.2,684.7 1191,687.7 1194.9,688.1 1198.9,690 1202.7,690.8 1206.6,691.3 1210.5,690 1215.6,690.6 1219.5,690.2 1223.4,691.6 1227.2,690.4 1232.3,689.8 1236.2,690.3 1240.1,689.8 1244,688.8 1249,688.9 1252.9,688.6 1255.7,689 1259.1,680.1 1262.4,687.3 1266.6,674.2 1270.5,678.2 1274.1,682.2 1278,680.9 1282.5,678.1 1285.8,681.4 1290,676.9 1293.9,681.4 1295.9,685.3 1300.9,680.1 1305.9,686.1 1310.9,681.1 1314.8,680.8 1318.7,682.2 1320.9,682.8 1324.8,685.2 1327.6,688.9 1331.5,688.4 1334.3,687.4 1338.2,684.9 1341,684.2 1344.9,680.7 1348.5,676.9 1352.7,684.8 1357.7,682.7 1361.6,677.4 1364.4,673.1 1368.3,680.1 1370.3,683.6 1374.2,682.5 1379.5,679.7 1384.5,670.5 1387.8,680.3"/>
<polyline stroke="#4C0AEA" points="820,944.2 823.9,945.8 827.8,948.1 830,949.3 833.9,948.2 837.8,948.5 842.5,948.4 846.4,947.1 850.3,946.1 852.5,945.7 856.4,940.2 860,935.3 863.9,935.4 867.8,933.7 871.7,934.2 875,933.3 878.9,932.5 882.8,931.9 886.7,930.6 890.5,930.3 892.5,930.7 896.4,930.3 900.3,929.6 904.2,928.3 908,928.6 910,928.4 913.9,927.9 917.8,927 921.7,926 925,925.4 928.9,924.3 932.8,923.6 936.7,924.4 940,923.1 943.9,922.2 947.8,921.5 951.7,921.5 955,920.3 958.9,919.5 962.8,918.8 966.7,917.5 970,916.9 973.9,916.1 977.8,914.7 981.7,912.6 985,912.3 988.9,911 992.8,909.7 996.7,908.6 1000,906.9 1003.9,904.2 1007.8,902 1010,901 1013.9,897.8 1017.8,893.9 1021.7,890.6 1025.5,887.7 1029.4,884.2 1032,882.1 1035.9,877.5 1039.8,871.8 1043.7,867 1049,859.8 1063.1,825.8 1075.5,788.6 1090,764 1096.2,746.2 1101.9,727.5 1106.2,720 1111.2,710 1118.8,704.4 1123,701.9 1128,700.6 1131.9,701 1133.6,700.4 1137.5,700.3 1141.4,699.7 1145.3,699.1 1147,699.6 1150.9,699.8 1154.8,701.3 1157.1,701.1 1160.4,704.7 1164.3,702.3 1167.1,699.1 1171,700.1 1174.9,702.6 1178.8,703.5 1182.7,702.8 1186.6,700.7 1190.5,699.1 1194.4,700.4 1198.3,700.2 1202.2,700.5 1207.2,700.4 1211.1,700.3 1215.6,698.9 1219.5,698.4 1223.9,699.8 1227.8,698.3 1231.7,698.7 1235.6,697.3 1237.3,697.1 1241.2,696.9 1245.1,697.9 1249,699.7 1252.9,699.6 1256.8,698.7 1260.7,698.6 1265.8,699.7 1269.6,699.7 1273.5,697.8 1277.4,699.2 1282.5,697.3 1286.4,698.6 1290.2,700.2 1294.2,701.3 1298.1,701.3 1302,699.1 1305.8,699.1 1307.6,699 1311.4,698.9 1315.3,700.5 1319.2,699.8 1324.3,701 1328.2,700.7 1332.1,700.1 1335.9,698.9 1337.7,698.7 1341.5,701.3 1344.3,702.4 1348.2,699.8 1352.7,698.2 1357.7,700.8 1361.6,701 1365.5,698.5 1369.4,698.3 1373.3,698.5 1377.2,697.3 1381.1,698.5 1385,697.4 1387.8,697.2"/>
<polyline stroke="#4C0AEA" points="820,948.2 823.9,950.9 827.8,952 830,953.5 833.9,952.5 837.8,952.4 842.5,951.8 846.4,951.1 850.3,949.4 852.5,949.4 856.4,944 860,939.1 863.9,939.4 867.8,938.9 871.7,937 875,937.1 878.9,936.5 882.8,935.8 886.7,935.5 890.5,935 892.5,934.3 896.4,933.7 900.3,933.4 904.2,933.6 908,933 910,932.2 913.9,931.3 917.8,931.4 921.7,930.8 925,929.8 928.9,928.4 932.8,928 936.7,927.1 940,926.9 943.9,926.5 947.8,924.9 951.7,923.6 955,922.8 958.9,921.5 962.8,921.5 966.7,920.7 970,919.5 973.9,917 977.8,916.1 981.7,914.6 985,914 988.9,911.9 992.8,910.7 996.7,908.9 1000,907.7 1003.9,905.2 1007.8,902.7 1010,900.9 1013.9,898.9 1017.8,895 1021.7,892.6 1025.5,888.6 1029.4,885.2 1033,883.4 1036.9,877.7 1040.8,872 1044.7,868 1050,860.3 1064.1,825.8 1076.5,788.6 1091,764 1097.2,746.2 1102.9,727.5 1107.2,720 1112.2,710.5 1119.8,705 1124,702.4 1129,701 1130.3,700.1 1134.2,701.2 1138.1,699.3 1140.3,699.5 1144.2,699.8 1148.1,701.9 1150.4,701.6 1154.3,701.8 1158.1,702.3 1162,701.7 1163.7,701.8 1167.6,700.7 1171.5,700.4 1173.8,700.6 1177.7,700.3 1181.6,700.9 1183.8,701.9 1187.7,700.7 1191.6,700.3 1195.5,700 1197.2,700.2 1201.1,700.7 1205,702.3 1207.2,702 1211.1,700.5 1215,700.2 1218.9,700.4 1220.6,700.5 1224.5,700.8 1228.4,701.3 1232.3,701.8 1236.2,701.1 1240.1,699.6 1244,699.1 1247.9,700.8 1251.8,700.4 1255.7,701.7 1257.4,701.5 1261.3,701.5 1265.2,700.9 1269,700.9 1274.1,700 1278,699.5 1281.9,699.8 1285.8,699.3 1290.8,699.5 1294.7,699.5 1298.6,700 1302.5,700.1 1307.6,701.2 1311.4,702.2 1315.3,700.9 1319.2,702.4 1324.3,702.4 1328.2,700.9 1332.1,700.9 1334.3,700.6 1338.2,702.4 1342.1,702.8 1346,703.2 1349.9,701.5 1353.8,700.7 1357.7,699.8 1361.6,700.7 1365.5,700.7 1369.4,699.1 1371.1,700.1 1375,700.4 1378.9,698.7 1382.8,698.9 1387.8,698.3"/>
<polyline stroke="#4C0AEA" points="820,952.5 823.9,955 827.8,955.9 830,957.9 833.9,957.1 837.8,956.6 842.5,956.3 846.4,954.7 850.3,953.8 852.5,953.7 856.4,948.1 860,943.9 863.9,943 867.8,942.3 871.7,941.5 875,941 878.9,941 882.8,940.8 886.7,939.3 890.5,939.5 892.5,938.6 896.4,938.6 900.3,937.2 904.2,937.2 908,936.4 910,936.5 913.9,936 917.8,934.3 921.7,933.7 925,933.7 928.9,932.6 932.8,931.9 936.7,932.3 940,931.3 943.9,929 947.8,927.8 951.7,927.5 955,926.7 958.9,925.7 962.8,924.2 966.7,923.1 970,921.6 973.9,920.1 977.8,919.2 981.7,916.4 985,915.9 988.9,914.2 992.8,911.5 996.7,910.6 1000,908.3 1003.9,906.7 1007.8,903.7 1010,901.7 1013.9,899.6 1017.8,897.9 1021.7,894.7 1025.5,892.1 1030,890.2 1033.9,887.5 1037.8,883.2 1041.7,881.1 1045.5,877.4 1050,874.1 1064,860 1076,825.8 1089,788.6 1103.8,764 1110,743 1115.6,727.5 1120.6,715 1123.8,707.5 1128,702.5 1133,697.5 1137.5,693.5 1141.4,692 1145.3,691.6 1147,690.6 1150.9,688.8 1154.8,689.7 1157.1,688.8 1160.9,687.8 1164.8,688.7 1168.7,688 1173.8,688 1177.7,687.6 1181.6,688.2 1185.4,689.2 1190.5,688.1 1194.4,689.1 1198.3,690 1202.2,689.4 1207.2,690.4 1211.1,690.4 1215,690.7 1218.9,690.1 1223.9,690.6 1227.8,689.8 1231.7,689.2 1235.6,688.8 1240.7,689.1 1244.6,688.8 1248.4,690.6 1252.3,689.2 1257.4,690.5 1261.3,690.9 1265.2,690.5 1269,689.9 1274.1,690.7 1278,691.7 1281.9,690.4 1285.8,691 1290.8,689.8 1294.7,689.8 1298.6,691.1 1302.5,691.6 1307.6,692.4 1311.4,693.2 1315.3,693.2 1319.2,693.4 1324.3,693.3 1328.2,693.1 1332.1,692.7 1335.9,693 1341,692.6 1344.9,692.6 1348.8,692.8 1352.7,691.2 1357.7,691.1 1361.6,689.8 1365.5,690.9 1369.4,689.9 1374.4,689.4 1378.3,689.2 1382.2,688.1 1386.1,689.4 1387.8,688"/>
<polyline stroke="#EC0A12" points="820,937.2 823.9,939.6 827.8,942.4 830,943.6 833.9,944.2 837.8,944.9 842.5,945 846.4,943.2 850.3,942.4 852.5,942.2 856.4,936.9 860,932.6 863.9,932.3 867.8,931.6 871.7,931 875,930.8 878.9,930.9 882.8,931.1 886.7,929.6 890.5,929.8 892.5,929.6 896.4,929.4 900.3,928.2 904.2,927.4 908,927.8 910,927.1 913.9,926.8 917.8,926.6 921.7,925.4 925,925.1 928.9,924.7 932.8,922.9 936.7,922.6 940,922.6 943.9,922 947.8,920.8 951.7,921.7 955,920.9 958.9,920.3 962.8,920 966.7,919 970,919.2 973.9,917.5 977.8,917.2 981.7,916.6 985,914.7 988.9,913.5 992.8,912.9 996.7,912.3 1000,910.5 1003.9,908.5 1007.8,907.5 1011.7,904.1 1015,903 1018.9,902.4 1022.8,899.7 1026.7,897.2 1030,895.1 1033.9,890.7 1037.8,889.1 1041.7,886.2 1045,883.8 1048.9,879.6 1052.8,876.4 1056.7,875.1 1060,872.9 1063.9,870.5 1067.8,868.9 1071.7,864.3 1075,862.3 1078.9,859.3 1082.8,857.3 1086.7,855.3 1090,853.2 1093.9,848.6 1097.8,847.9 1100,846.7 1103.8,837.5 1107.5,842.5 1122.5,825 1130,822.5 1135,810 1142.5,805 1147.5,798.8 1152.5,796.2 1156.2,787.5 1160,791.2 1165,780 1170,777.5 1175,772.5 1182.5,767.5 1186.2,771.2 1190,766.2 1196.2,772.5 1205,763.8 1210,771.2 1213.8,777.5 1216.2,768.8 1222.5,775 1235,771.2 1240,767.5 1250,773.8 1260,775 1267.5,767.5 1271.2,758.8 1275,768.8 1278.8,753.8 1282.5,743.8 1287.5,753.8 1290,757.5 1297.5,750 1302.5,743.8 1307.5,747.5 1317.5,732.5 1320,741.2 1325,730 1330,740 1332.6,737.3 1336,740.3 1340.2,737.8 1344.3,739 1349.4,732 1354.4,737.8 1360.2,735.3 1366.1,737 1376.1,732.8 1381.1,738.7 1384.5,742 1387.8,735.3"/>
<polyline stroke="#EC0A12" points="820,940 823.9,941.7 827.8,945.4 830,946.4 833.9,945.9 837.8,947.1 842.5,947.3 846.4,947.1 850.3,946.1 852.5,944.8 856.4,940 860,935 863.9,934.3 867.8,934.2 871.7,933.9 875,933.7 878.9,934.2 882.8,933.6 886.7,932.2 890.5,932.4 892.5,932.9 896.4,932.4 900.3,931.6 904.2,931.1 908,930.6 910,929.7 913.9,929.2 917.8,928.3 921.7,927.6 925,927.7 928.9,926.1 932.8,925.8 936.7,926 940,925.4 943.9,924.3 947.8,924.6 951.7,924 955,922.8 958.9,923.2 962.8,921.4 966.7,921.4 970,920.6 973.9,919.1 977.8,918.8 981.7,917.9 985,916 988.9,914.9 992.8,914.1 996.7,912.9 1000,911.4 1003.9,910.6 1007.8,906.4 1011.7,907.8 1015,904.8 1018.9,902.9 1022.8,901.7 1026.7,896.6 1030,895.2 1033.9,893.6 1037.8,892 1041.7,889.5 1045,886.1 1048.9,883.2 1052.8,879.5 1056.7,878.5 1060,875.3 1063.9,874.2 1067.8,871.5 1071.7,868.2 1075,866.5 1078.9,862.5 1082.8,860.2 1086.7,859.5 1090,856.7 1093.9,852.1 1097.8,850.5 1101.7,849.1 1105,847.6 1108.9,844 1112.8,841.2 1116.7,840.5 1120,836 1123.9,833.1 1127.8,832.2 1131.7,826.8 1135,825.1 1138.9,823 1142.5,824.4 1146.2,816.9 1150.1,812 1154,810.4 1157.9,805.7 1160,805.7 1163.9,801.1 1167.5,797.1 1171.4,795.5 1175,790 1180,782.6 1183.9,782.4 1187.8,777.8 1190,777.4 1193.9,778.2 1197.8,775 1200,775.7 1203.9,776.5 1207.8,778.8 1210,777.7 1213.9,778.1 1217.8,775.5 1220,774.4 1223.9,774.4 1227.8,775 1231.7,775.5 1235,774.9 1238.9,774.8 1242.8,774.7 1246.7,776 1250,776.6 1253.9,777.3 1257.8,775.4 1260,777 1263.9,776.3 1267.8,773.6 1270,772.1 1273.9,771.9 1277.8,768.7 1280,770 1283.9,770.8 1287.8,767.5 1290,766.8 1293.9,767.6 1297.5,766.5 1301.4,761 1305,757 1308.9,757.5 1312.5,760.4 1316.4,758.5 1320.3,753.1 1322.5,752 1326.4,752.2 1330.3,750.3 1332.5,748.5 1336.8,747.9 1341,747.2 1344.9,744.6 1349.4,744.6 1353.3,745.8 1357.7,746.6 1361.6,744.8 1365.5,743.1 1367.8,742.8 1371.6,740.8 1374.4,742.9 1378.3,743.3 1381.1,746.9 1385,743.7 1387.8,740.5"/>
<polyline stroke="#EC0A12" points="820,942.8 823.9,944.8 827.8,947 830,949.1 833.9,949 837.8,950 842.5,950 846.4,950 850.3,948.6 852.5,947.6 856.4,941.9 860,938 863.9,938.1 867.8,936.8 871.7,936.1 875,936.9 878.9,936.9 882.8,935.9 886.7,935 890.5,935.8 892.5,935.6 896.4,934.4 900.3,933.9 904.2,934.2 908,933.4 910,933.1 913.9,932.3 917.8,931 921.7,931.5 925,930.5 928.9,930.2 932.8,928.7 936.7,928 940,928.1 943.9,927.8 947.8,925.8 951.7,925.1 955,925 958.9,924.9 962.8,923.6 966.7,922.8 970,922.8 973.9,922.2 977.8,920.1 981.7,918.2 985,917.5 988.9,916.1 992.8,914.9 996.7,913.4 1000,912.4 1003.9,910.2 1007.8,907.7 1011.7,905.7 1015,904.4 1018.9,904.2 1022.8,903.6 1026.7,900.6 1030,899.2 1035,899.8 1038.9,896.7 1042.8,895.3 1046.7,894.2 1050,894.6 1053.9,890 1057.8,889.8 1061.7,886 1065,886 1070,881 1073.9,881.4 1077.8,879.9 1080,879.5 1083.9,877.1 1087.5,876.3 1092.5,874.9 1096.4,870.9 1100.3,866.9 1105,865.6 1108.9,864.7 1112.8,862.3 1116.7,858.2 1120,856.1 1123.9,851.8 1127.8,852.4 1131.7,847.3 1135,844.1 1138.9,845.6 1142.5,842.8 1146.2,835.5 1150.1,832.3 1154,828.2 1157.9,827.7 1160,825.5 1163.9,821.2 1167.8,819 1170,814.4 1173.9,813 1177.8,807.6 1180,804.2 1183.9,802.5 1187.8,798.7 1190,795.6 1193.9,790.9 1197.8,787.6 1200,785.2 1203.9,783.3 1207.5,779.8 1212.5,783 1216.4,780.7 1220.3,778.3 1222.5,776.6 1226.4,776.2 1230.3,778.2 1235,777.5 1238.9,776.3 1242.8,778.9 1246.7,775.7 1250,776.5 1253.9,779.1 1257.8,781 1260,780.7 1263.9,779.4 1267.8,777.5 1272.5,775.8 1276.4,777.2 1280.3,775.3 1285,773.1 1288.9,777.5 1293.8,779.2 1297.6,775.2 1300,769.8 1303.9,767.8 1307.8,766.4 1310,764.6 1313.9,762.7 1317.8,763.8 1320,761.9 1323.9,760.9 1327.8,758.4 1330,756.6 1334.3,754.5 1339.3,764.4 1343.2,760.6 1346,760.7 1349.9,758.1 1352.7,754.8 1357.7,754.1 1361.1,742.8 1366.1,749.6 1370,749.5 1372.8,746.7 1377.8,740.3 1381.1,747.3 1385,746.2 1387.8,746.1"/>
<polyline stroke="#EC0A12" points="820,945.8 823.9,948.8 827.8,950.1 830,951.7 833.9,951.8 837.8,953.2 842.5,953.5 846.4,953.1 850.3,951.6 852.5,950.9 856.4,945.9 860,940.7 863.9,940.5 867.8,939.5 871.7,939 875,939.8 878.9,939.7 882.8,939.7 886.7,939.1 890.5,938.5 892.5,938 896.4,938.3 900.3,937.2 904.2,937.2 908,936.5 910,936 913.9,935.3 917.8,934.9 921.7,933.7 925,933.4 928.9,932.6 932.8,932.1 936.7,931.9 940,930.9 943.9,930.2 947.8,929.2 951.7,927.9 955,927.9 958.9,926.7 962.8,925.9 966.7,925.9 970,924.7 973.9,923.6 977.8,921.4 981.7,920.9 985,919.6 988.9,918 992.8,917 996.7,915.1 1000,914 1003.9,911.6 1007.8,909.1 1011.7,909.3 1015,906.3 1018.9,906.8 1022.8,903.8 1026.7,902.8 1030,903.1 1035,902.7 1038.9,899.3 1042.8,897.8 1046.7,898 1050,895.4 1053.9,893.3 1057.8,894.6 1061.7,893 1065,890.7 1068.9,886 1072.5,884.6 1076.4,884.4 1081.2,886.8 1085.1,882.9 1089,882.7 1092.5,878.2 1096.4,873.3 1100.3,869.9 1105,866.4 1108.9,863.6 1112.8,864.6 1116.7,864.1 1120,862.6 1123.9,860.4 1127.8,857 1131.7,853.5 1135,851.1 1138.9,846.9 1142.8,844.7 1146.7,841.6 1150,838.5 1153.9,836.6 1157.8,832.8 1161.7,827.7 1165,826.2 1168.9,821.2 1172.8,818.2 1176.7,813 1180,811.6 1183.9,804.5 1187.8,799.7 1190,798.7 1193.9,799 1197.5,797 1201.4,791.9 1205,785 1208.9,784 1212.5,785.6 1216.4,784.2 1220.3,782.5 1222.5,780 1226.4,781.2 1230.3,780.7 1235,777.9 1238.9,777.3 1242.8,779.4 1246.7,780.3 1250,778.9 1253.9,780.7 1257.8,781.1 1260,781.5 1263.9,778.6 1267.8,780.1 1272.5,778.1 1276.4,778.4 1280.3,778.4 1285,776.7 1288.9,774.5 1292.8,775.8 1297.5,774.1 1301.4,775.9 1305.3,776.6 1310,774.5 1313.9,773.2 1317.8,775.4 1322.5,774.5 1326.4,772.4 1330.3,774.1 1335,772.9 1338.9,768.6 1341,769 1344.9,768.5 1347.7,765.2 1351.6,762.4 1355.5,761.1 1357.7,762.3 1361.6,762.4 1365.5,758.4 1367.8,759 1371.6,757.8 1375.5,756.7 1377.8,756.5 1381.7,756.4 1384.5,756.8 1387.8,754.5"/>
</g>
<g fill="none" stroke="#000" stroke-width="3.3" stroke-linecap="round">
<path d="M816.4,49.9V1084.9H1387.8"/>
<path d="M816.4,164.9V1084.9M816.4,1084.9H1361"/>
<path stroke-width="3.1" d="M816.4,1084.9v16.2M894.1,1084.9v16.2M972,1084.9v16.2M1049.8,1084.9v16.2M1127.5,1084.9v16.2M1205.3,1084.9v16.2M1283.2,1084.9v16.2M1361,1084.9v16.2M816.4,1084.9h-16.4M816.4,854.9h-16.4M816.4,624.9h-16.4M816.4,394.9h-16.4M816.4,164.9h-16.4"/>
</g>
<g font-size="29.2" text-anchor="middle">
<text transform="translate(816.4,1143.6) scale(1.05,1)">0</text>
<text transform="translate(894.1,1143.6) scale(1.05,1)">5</text>
<text transform="translate(972,1143.6) scale(1.05,1)">10</text>
<text transform="translate(1049.8,1143.6) scale(1.05,1)">15</text>
<text transform="translate(1127.5,1143.6) scale(1.05,1)">20</text>
<text transform="translate(1205.3,1143.6) scale(1.05,1)">25</text>
<text transform="translate(1283.2,1143.6) scale(1.05,1)">30</text>
<text transform="translate(1361,1143.6) scale(1.05,1)">35</text>
<text transform="translate(777,1084.9) rotate(-90) scale(1,1.06)">0.0</text>
<text transform="translate(777,854.9) rotate(-90) scale(1,1.06)">0.2</text>
<text transform="translate(777,624.9) rotate(-90) scale(1,1.06)">0.4</text>
<text transform="translate(777,394.9) rotate(-90) scale(1,1.06)">0.6</text>
<text transform="translate(777,164.9) rotate(-90) scale(1,1.06)">0.8</text>
<text x="1102.1" y="1177" textLength="79.6" lengthAdjust="spacingAndGlyphs">Hours</text>
<text transform="translate(743.8,567.4) rotate(-90) scale(1,1.07)" textLength="94.6" lengthAdjust="spacingAndGlyphs">OD600</text>
</g>
<text x="1102.1" y="29" font-size="33.7" font-weight="bold" text-anchor="middle">20 mM Glycine</text>
<g stroke-width="3.4" stroke-linecap="round" font-size="29.2">
<line x1="841" y1="82.9" x2="890.6" y2="82.9" stroke="#000000"/>
<text x="915.6" y="92.8">wt + empty</text>
<line x1="841" y1="115.9" x2="890.6" y2="115.9" stroke="#EC0A12"/>
<text x="915.6" y="125.8">cycA− + empty</text>
<line x1="841" y1="148.9" x2="890.6" y2="148.9" stroke="#08C410"/>
<text x="915.6" y="158.8">cycA− + cycA</text>
<line x1="841" y1="181.9" x2="890.6" y2="181.9" stroke="#4C0AEA"/>
<text x="915.6" y="191.8">cycA− + PGA1_c00920</text>
</g>
</g>
<g id="panel3">
<g fill="none" stroke-width="2.8" stroke-linejoin="round" stroke-linecap="round">
<polyline stroke="#08C410" points="1540,947.5 1543.9,950.7 1547.5,954.8 1551.4,954.8 1555.3,953.5 1557.5,954 1561.4,953.9 1565.3,954 1567.5,955 1571.4,951.9 1575,949.7 1578.9,945.2 1582.5,941.2 1586.4,939.7 1590.3,939.4 1595,937.4 1598.9,937.3 1602.8,936.4 1606.7,935.6 1610.5,935.6 1612.5,935.6 1616.4,934.8 1620.3,934.4 1624.2,933 1628,932.3 1630,932.2 1633.9,931.7 1637.8,931.5 1641.7,930 1645,929.7 1648.9,928.1 1652.8,927.4 1656.7,927.2 1660,926.4 1663.9,925.7 1667.8,923.8 1671.7,923.4 1675,922.3 1678.9,921.6 1682.8,920 1686.7,918.9 1690,917.7 1693.9,916.2 1697.8,913.6 1701.7,912.4 1705,909.9 1708.9,907.9 1712.8,904.3 1716.7,902.5 1720,900.3 1723.9,896.5 1727.8,892.7 1731.7,889.8 1735,886.5 1738.9,882.3 1742.8,877.6 1746.7,873.6 1750,869.7 1753.9,864.9 1757.8,859.4 1761.7,854.7 1765,849.7 1768.9,843.5 1772.8,836.5 1776.7,830.4 1780,825.3 1783.9,816.6 1787.8,807.7 1790,802.4 1793.9,791.3 1797.8,780.5 1800,775 1807.5,750 1815,725 1821.2,700 1830.2,678 1838.6,647.2 1847,613.8 1853.6,588.7 1858.7,583.7 1863.7,568.6 1867,557.8 1870.4,557.8 1873.7,545.2 1880.4,531.8 1887.1,521.8 1893.8,516 1902.1,510.9 1909.7,505.9 1913.8,512.6 1921.4,510.9 1925.6,498.4 1928.9,502.6 1933.1,510.9 1937.3,507.6 1940.6,510.1 1944.8,505.1 1949,513.4 1954.8,510.9 1960.7,517.6 1968.2,512.6 1974,514.3 1980.7,521 1987.4,520.1 1991.6,516.8 1997.5,520.1 2006.7,518.5 2011.7,524.3 2019.2,519.3 2024.2,525.2 2034.2,524.3 2037.6,528.5 2042.6,524.3 2050.1,531 2054.3,524.3 2058.5,528.5 2061.8,525.2 2066,531 2072.7,527.7 2081.1,533.5 2088.6,529.3 2092.8,534.3 2099.5,532.7 2104.5,536.9 2107.8,533.5"/>
<polyline stroke="#08C410" points="1540,948.2 1543.9,951.5 1547.5,955.6 1551.4,954.6 1555.3,954.5 1557.5,954.7 1561.4,955.3 1565.3,955.4 1567.5,955.9 1571.4,953.1 1575,951 1578.9,946.4 1582.5,941.7 1586.4,940.9 1590.3,939.6 1595,938.3 1598.9,937.4 1602.8,937.6 1606.7,936.5 1610.5,936.2 1612.5,936.1 1616.4,935.3 1620.3,934.5 1624.2,934.6 1628,933.8 1630,932.9 1633.9,932.6 1637.8,931.1 1641.7,931.1 1645,930.2 1648.9,929.5 1652.8,928.9 1656.7,928.1 1660,927.1 1663.9,925.7 1667.8,924.5 1671.7,924.2 1675,923.3 1678.9,922.5 1682.8,921.2 1686.7,919 1690.2,918.2 1694.1,916.6 1698,914.3 1701.9,913.2 1705.6,910.4 1709.5,908.1 1713.4,906.2 1717.3,903.8 1721,900.8 1724.8,896.9 1728.7,893.9 1732.6,890.1 1736.3,887.1 1740.2,882.7 1744.1,878.3 1748,874.8 1751.7,870.9 1755.6,865.7 1759.5,860.8 1763.3,855.7 1767,850.8 1770.9,843.7 1774.8,837.9 1778.7,832.3 1782.4,825.8 1786.3,817.6 1790.2,809.3 1792.6,802.9 1796.5,793.1 1800.4,782.4 1802.9,775.4 1810.5,750.8 1818,725.8 1824.2,700.8 1833.6,678 1843.6,647.2 1850.3,633.8 1860.3,618.8 1864.2,615.3 1867,613.8 1870.4,617.1 1875.4,604.1 1879.3,598.6 1882.1,595.7 1886.3,588.6 1890.1,592.9 1892.1,594.2 1896,590.1 1898.8,589 1902.7,586.9 1905.5,586.9 1910.5,580.7 1913.8,575.3 1917.2,586.5 1921.1,582.6 1923.9,581.7 1927.8,582.4 1930.6,582.5 1934.5,584.6 1937.3,586.8 1941.1,588.4 1943.9,588.2 1949,597.2 1954,593.4 1957.9,588.6 1959.8,587.3 1963.7,592.1 1965.7,595.9 1970.7,600.6 1975.7,595.5 1980.7,598 1984.1,594.3 1988,597.8 1992.4,599.1 1996.3,598.4 2000.8,595.4 2005.8,599.7 2010.8,592.9 2014.2,603.6 2018.1,603.5 2022.5,604.4 2027.6,608.1 2031.4,609.5 2035.9,612.4 2039.8,609.7 2041.8,607.5 2045.7,611 2047.6,614.1 2051.8,610.5 2055.7,612.3 2059.3,615.5 2063.2,611.7 2066,609 2069.4,616.3 2072.7,609.2 2076.1,616.6 2079.9,616.9 2082.7,615.7 2087.8,618.7 2091.6,617 2094.4,616.8 2098.3,619.5 2101.1,620.6 2105,619.6 2107.8,618.4"/>
<polyline stroke="#08C410" points="1540,948.8 1543.9,953 1547.5,956.4 1551.4,955.6 1555.3,954.9 1557.5,955.1 1561.4,956.1 1565.3,955.9 1567.5,956.5 1571.4,953 1575,951.3 1578.9,946.3 1582.5,942.5 1586.4,941.5 1590.3,940.7 1595,938.8 1598.9,938.8 1602.8,937.6 1606.7,936.9 1610.5,936.9 1612.5,936.9 1616.4,936.4 1620.3,934.8 1624.2,934.4 1628,933.7 1630,933.7 1633.9,933.5 1637.8,931.9 1641.7,930.8 1645,931 1648.9,930.4 1652.8,929.4 1656.7,927.6 1660,927.3 1663.9,926.1 1667.8,926.1 1671.7,924.1 1675,923.5 1678.9,922.1 1682.8,921.6 1686.7,919.6 1690.5,919.1 1694.4,916.6 1698.3,915.3 1702.1,912.8 1706.2,911.1 1710.1,909.3 1714,907 1717.9,903.5 1721.9,901.1 1725.8,897.2 1729.7,894 1733.6,890.9 1737.6,887.5 1741.5,883.6 1745.4,879.3 1749.3,875 1753.4,871.3 1757.2,866.1 1761.1,861.1 1765,857.1 1769.1,851.3 1773,844.4 1776.9,839.5 1780.7,833.4 1784.8,826.2 1788.7,818.6 1792.6,809 1795.3,804 1799.2,793.1 1803.1,783.9 1805.8,776.4 1813.5,751.2 1821,726.2 1827.2,701.2 1835.3,678 1845.3,647.2 1853.6,630.5 1862,620.5 1865.9,618.2 1870.4,611.8 1874.3,610.7 1877.1,609.6 1880.9,596.7 1883.7,589.8 1887.6,593.5 1890.4,594.7 1894.3,593 1898.8,592.8 1902.7,590.1 1907.2,587.3 1912.2,585.3 1916.1,588.6 1918.9,589.5 1922.7,590.5 1927.2,593.8 1931.1,593.3 1935.6,594.5 1939.5,591.5 1943.9,590.6 1949,601.2 1952.8,601.9 1957.3,602.9 1961.2,602.1 1965.1,603.3 1969,602.6 1972.9,601.8 1977.4,603.7 1981.3,603.6 1985.8,607.2 1989.6,608.8 1994.1,608.8 1998,610.2 2002.5,609.1 2006.4,611.4 2010.8,612.1 2014.7,613.3 2019.2,613 2023.1,613.6 2027.6,614 2031.4,613.6 2035.9,615.5 2039.8,616.1 2044.3,620.3 2048.2,624 2051,624.1 2054.9,622.5 2058.7,622.6 2061,620.8 2064.9,621.1 2068.8,621.3 2071,622.8 2074.9,620.4 2077.7,618.8 2081.6,619.6 2085.5,620.1 2087.8,621.6 2091.6,622.5 2095.5,622.3 2097.8,622.6 2101.7,622 2105.6,621.7 2107.8,622.2"/>
<polyline stroke="#08C410" points="1540,949.2 1543.9,952.6 1547.5,957 1551.4,956.4 1555.3,955.4 1557.5,955.7 1561.4,956.1 1565.3,956.9 1567.5,956.8 1571.4,954.5 1575,951.9 1578.9,947 1582.5,942.7 1586.4,942.4 1590.3,940.1 1595,939.3 1598.9,939.5 1602.8,938.2 1606.7,937.6 1610.5,937.3 1612.5,937 1616.4,936.9 1620.3,935.6 1624.2,934.7 1628,934.7 1630,934.1 1633.9,933 1637.8,932 1641.7,932.4 1645,931.2 1648.9,930.5 1652.8,929.5 1656.7,929.2 1660,927.7 1663.9,927.2 1667.8,926.5 1671.7,924.8 1675,924.2 1678.9,922.8 1682.8,921.5 1686.7,921.2 1690.7,919.1 1694.6,917.8 1698.5,915 1702.4,914.2 1706.8,911.5 1710.7,909.7 1714.6,906.3 1718.5,904.1 1722.9,901.6 1726.8,898.1 1730.7,895.5 1734.5,891.8 1739,887.7 1742.8,883.6 1746.7,880 1750.6,876.5 1755,871.8 1758.9,866.9 1762.8,862.5 1766.7,857.9 1771.1,852.1 1775,846.4 1778.9,840.3 1782.8,834.3 1787.2,826.9 1791.1,818.9 1795,810.6 1797.9,804.2 1808.6,776.8 1816.5,751.8 1824,726.8 1830.2,701.8 1836.9,678 1847,648.9 1857,627.2 1863.7,622.1 1867.6,619.5 1870.4,615.2 1874.3,615 1877.1,612 1880.9,601.6 1883.7,597.7 1887.6,595.1 1890.4,592.8 1894.3,593.3 1898.8,590.9 1902.7,591.7 1905.5,590.3 1909.4,590.1 1912.2,591.5 1916.1,589.3 1918.9,587.3 1922.7,583.8 1925.6,580.7 1929.4,581.1 1933.9,584.5 1937.8,588.4 1940.6,589.5 1945.6,593.7 1950.6,601.3 1954.5,602 1958.4,604.2 1960.7,605.2 1964.6,605.7 1969,604.7 1972.9,606.5 1977.4,604.8 1981.3,606.3 1985.8,609.2 1989.6,609.2 1994.1,610.5 1998,609.5 2002.5,611.3 2006.4,614.4 2010.8,613.6 2014.7,615.6 2019.2,615.2 2023.1,615.5 2027.6,615.6 2031.4,618.5 2035.9,617.5 2039.8,621.3 2044.3,622.4 2048.2,621.9 2052.6,621.4 2056.5,622.8 2061,622.9 2064.9,623.2 2068.8,624 2071,623.4 2074.9,624.8 2078.8,621.1 2081.1,621.7 2085,623 2088.8,623.9 2091.1,623.4 2095,624.1 2098.9,622.4 2101.1,623 2105,622.1 2107.8,621.4"/>
<polyline stroke="#4C0AEA" points="1540,940.5 1543.9,944.2 1547.5,947.6 1551.4,947.7 1555.3,946.3 1557.5,946.7 1561.4,946.9 1565.3,948.1 1567.5,947.7 1571.4,946.3 1575,942.6 1578.9,937.8 1582.5,934.8 1586.4,935.4 1590.3,935 1595,934.3 1598.9,933.3 1602.8,933.5 1606.7,933.7 1610.5,933.6 1612.5,933.8 1616.4,933.5 1620.3,933.4 1624.2,933 1628,933.7 1630,933.3 1633.9,931.6 1637.8,931.6 1641.7,931.3 1645,929.8 1648.9,930.1 1652.8,928.3 1656.7,927 1660,926.2 1663.9,925.8 1667.8,923.7 1671.7,922.2 1675,921.7 1678.9,919.5 1682.8,918.8 1686.7,918.6 1690,917.1 1693.9,916 1697.8,914.9 1701.7,912.2 1705,911.9 1708.9,910.5 1712.8,910.2 1716.7,908.8 1720,906.6 1723.9,905.7 1727.8,903.2 1731.7,901.7 1735,900.7 1738.9,899.6 1742.8,897.8 1746.7,895 1750,893.8 1753.9,893.2 1757.8,890.4 1761.7,888.6 1765,887 1768.9,885.2 1772.8,882.4 1776.7,879.8 1780,877.5 1783.9,875.1 1787.8,872.4 1791.7,869.3 1795,867.2 1798.9,863.7 1802.8,861.7 1807,858.4 1810.9,854.2 1814.8,849.4 1816.9,847.3 1820.7,842.2 1823.5,839.2 1827.4,837.4 1830.2,835.3 1834.1,829.9 1838.6,824.1 1842.5,817.9 1847,812.4 1850.8,807.4 1853.6,803.5 1858.7,788.7 1862.8,794.1 1867,776.7 1871.2,788.7 1875.1,779.5 1877.1,773.5 1880.4,770.6 1885.4,766.9 1889.6,764 1893.8,759 1898,757.2 1902.1,746.7 1906.3,751.5 1909.7,740.1 1913.8,743.9 1917.7,742.9 1920.5,742 1924.4,739.8 1928.9,738 1933.9,740.7 1937.3,736.4 1941.1,740 1943.9,741.7 1949,735 1952.3,724.6 1956.5,730.2 1960.7,727.2 1964.6,726.4 1967.4,726.4 1971.5,708.9 1975.7,720.5 1979.6,713.1 1982.4,708.7 1987.4,710.2 1991.3,707.5 1994.1,705.1 1997.5,703.7 2002.5,702.1 2006.7,682.5 2010,700.3 2014.2,703.5 2018.4,683.5 2020.9,701.8 2024.8,698.2 2027.6,694.9 2032.6,698.4 2037.6,693.7 2041.5,697.8 2044.3,702 2048.2,700.8 2051,700.1 2054.9,700.7 2057.7,702 2061.5,700.3 2064.3,700 2068.2,700.5 2071,701.8 2074.9,699.2 2077.7,698.5 2081.1,692.6 2086.1,703.2 2090,700.9 2092.8,700 2096.7,698.4 2099.5,696 2104.5,701.9 2107.8,696.5"/>
<polyline stroke="#4C0AEA" points="1540,948 1543.9,951.8 1547.5,955.7 1551.4,955.1 1555.3,954.5 1557.5,954.6 1561.4,954.2 1565.3,956.2 1567.5,955.5 1571.4,952.1 1575,950.7 1578.9,945.5 1582.5,942.4 1586.4,941.7 1590.3,940.2 1595,940.6 1598.9,939.5 1602.8,940.4 1606.7,938.2 1610.5,938.5 1612.5,938.8 1616.4,937.7 1620.3,937.2 1624.2,936.1 1628,936.5 1630,936.3 1633.9,934.5 1637.8,934.2 1641.7,932.9 1645,932.1 1648.9,931.6 1652.8,929.4 1656.7,927.8 1660,927 1663.9,926.1 1667.8,925.4 1671.7,924.1 1675,921.8 1678.9,920 1682.8,920.6 1686.7,917.9 1690,917.7 1693.9,915.5 1697.8,914.9 1701.7,914.1 1705,913 1708.9,911 1712.8,909.9 1716.7,909.4 1720.6,907.5 1724.4,905.2 1728.3,904.1 1732.2,902.3 1736.1,901.5 1740,900 1743.9,897.3 1747.8,896.6 1751.7,895.3 1755.6,893.8 1759.5,891.7 1763.3,889.5 1767.2,887.5 1771.1,886.1 1775,882.8 1778.9,880.1 1782.8,878.1 1786.7,875.3 1790.6,872.7 1794.5,869.7 1798.4,867.4 1802.3,866 1806.1,860.7 1810,857.9 1811.8,857.5 1815.6,853.3 1819.5,852.7 1823.5,847.9 1827.4,845.4 1831.9,839.7 1835.8,835 1840.3,827.6 1844.2,822.3 1847,820.1 1850.8,816.7 1853.6,813.7 1857.5,809.6 1860.3,807.2 1864.2,803.3 1867,799.3 1870.9,797.2 1873.7,794.3 1877.6,791.7 1880.4,792.3 1884.3,787.3 1887.1,785.5 1891,782 1893.8,781.2 1897.7,776.4 1900.5,773.7 1904.4,770.1 1907.2,768.7 1910.5,761.3 1914.4,761.2 1917.2,764.5 1921.1,759.8 1923.9,756.5 1927.8,756.2 1930.6,752.8 1934.5,752.9 1937.3,750.9 1941.1,752.2 1943.9,749.5 1947.8,747.8 1950.6,743.8 1954.5,740.5 1957.3,736.8 1961.2,733.4 1964,732.1 1967.9,730.2 1970.7,731 1974.6,726.4 1977.4,724 1981.3,721.5 1984.1,718 1988,716.5 1990.8,714.4 1994.7,710.8 1997.5,709.4 2001.3,710 2004.1,706.8 2008,704.5 2010.8,703.9 2014.7,701.5 2017.5,701.1 2021.4,699.3 2024.2,699.5 2028.1,700.3 2030.9,701.3 2034.8,703.6 2037.6,704.9 2041.5,707.5 2044.3,706.9 2048.2,710.1 2051,710.3 2054.3,717 2058.2,714.7 2061,709.4 2064.9,709.8 2067.7,707.5 2071.6,707.2 2074.4,709.3 2077.7,716.6 2081.6,712.2 2084.4,710.4 2088.3,711.5 2091.1,713.9 2095,711.6 2097.8,709.9 2101.7,708.3 2104.5,708.8 2107.8,709.6"/>
<polyline stroke="#4C0AEA" points="1540,952.5 1543.9,955.4 1547.5,959.8 1551.4,960 1555.3,959.7 1557.5,959.1 1561.4,960.2 1565.3,959.1 1567.5,959.8 1571.4,957.5 1575,955.2 1578.9,949.9 1582.5,946.5 1586.4,945.1 1590.3,945.2 1595,944 1598.9,943 1602.8,942.7 1606.7,942.7 1610.5,941.9 1612.5,941.4 1616.4,941.7 1620.3,939.7 1624.2,938.8 1628,937.6 1630,938.4 1633.9,937.1 1637.8,935.8 1641.7,934.2 1645,932.8 1648.9,930.8 1652.8,930.5 1656.7,929.6 1660,928.2 1663.9,925.6 1667.8,924.3 1671.7,923 1675,922.4 1678.9,922.1 1682.8,920.8 1686.7,919.9 1690,918.1 1693.9,916.3 1697.8,916.4 1701.7,915.4 1705,912.9 1708.9,911.2 1712.8,910.1 1716.7,909.3 1721.1,908.4 1725,907.1 1728.9,904.7 1732.8,903.1 1737.2,902 1741.1,901.5 1745,900 1748.9,896.6 1753.4,895.4 1757.3,893 1761.1,892.2 1765,890.2 1769.5,888.5 1773.4,885.7 1777.3,884.5 1781.2,882.1 1785.6,878.8 1789.5,877.3 1793.4,874 1797.3,870.2 1801.8,868.5 1805.6,866.2 1809.5,863.7 1813.4,860.6 1816.8,857.8 1820.6,855.4 1824.5,851.6 1826.9,848.1 1830.8,845.6 1835.3,842.2 1839.1,836.1 1843.6,830.9 1847.5,827.7 1850.3,828 1854.2,822.9 1857,818.3 1860.9,813.5 1863.7,809.9 1867.6,806.6 1870.4,803.6 1874.3,799 1877.1,796.7 1880.9,795.5 1883.7,796.3 1887.6,792.2 1890.4,792.9 1894.3,786.4 1897.1,783.5 1901,778.4 1903.8,777.1 1907.7,773.6 1910.5,769 1913.8,772.8 1918.9,765.4 1922.7,763 1925.6,763 1929.4,760.2 1933.9,759 1937.8,756.7 1940.6,757.6 1944.5,755 1947.3,753.1 1951.2,748.1 1954,747.5 1957.3,750.3 1961.2,744.7 1964,738.1 1969,740.6 1972.9,736.7 1975.7,731.9 1980.7,727.8 1985.8,720.5 1989.6,718.1 1994.1,717.6 1998,714.3 2000.8,712.2 2005.8,707.6 2010.8,714.3 2014.7,709.6 2017.5,706.9 2021.4,710.4 2024.2,710.8 2028.1,707.3 2030.9,707.7 2034.8,709.7 2037.6,710.1 2041.5,705.1 2044.3,704.1 2048.2,706 2051,707 2054.3,710.2 2058.2,710.5 2061,708.6 2064.9,707.7 2069.4,704.9 2073.3,708.4 2076.1,712.9 2079.9,707.9 2082.7,707.2 2086.6,707.6 2089.4,709.4 2093.3,713.5 2096.1,713.7 2100,708 2102.8,706 2107.8,713.9"/>
<polyline stroke="#4C0AEA" points="1540,954.5 1543.9,958.4 1547.5,962.2 1551.4,962.2 1555.3,960.5 1557.5,960.4 1561.4,961.6 1565.3,961.4 1567.5,962.2 1571.4,960.1 1575,956.6 1578.9,952.2 1582.5,947.9 1586.4,947.1 1590.3,947.5 1595,945.3 1598.9,944.8 1602.8,943.8 1606.7,943.1 1610.5,942.4 1612.5,942.5 1616.4,942.6 1620.3,941.6 1624.2,940 1628,940 1630,939.4 1633.9,937.2 1637.8,936.6 1641.7,934.3 1645,933.6 1648.9,932.1 1652.8,930.9 1656.7,929.8 1660,928.1 1663.9,926.7 1667.8,926.2 1671.7,924.1 1675,923.4 1678.9,922.6 1682.8,921.7 1686.7,919.2 1690,918.5 1693.9,918 1697.8,915.7 1701.7,914.9 1705,913.6 1708.9,913.4 1712.8,911.4 1716.7,909.6 1721.6,909.2 1725.5,906.3 1729.3,905.4 1733.2,904.7 1738.2,902.4 1742,901.6 1745.9,900.5 1749.8,898.2 1754.7,896.2 1758.6,895.4 1762.5,893 1766.4,891.4 1771.3,888.8 1775.2,887.2 1779.1,885.1 1783,881.4 1787.9,879.2 1791.8,876 1795.6,873.9 1799.5,871.5 1804.5,868.6 1808.3,865.7 1812.2,863.7 1816.1,861.3 1820.2,857.1 1824.1,854 1828,853.5 1830.2,851.5 1834.1,846 1838.6,843.6 1842.5,840.3 1847,835.5 1852,833.3 1855.9,829.4 1858.7,824.1 1862.5,817.7 1865.4,813.5 1869.2,808.6 1872,806.7 1875.9,804 1878.7,799.6 1882.6,795.3 1885.4,793.9 1889.3,791 1892.1,792.8 1896,787.1 1898.8,785.8 1902.7,783.8 1905.5,780.4 1909.4,777.1 1912.2,771.5 1917.2,769.6 1922.2,766.1 1926.1,762.5 1928.9,761.5 1932.8,759.3 1937.3,756.3 1941.1,754.4 1943.9,754.6 1947.8,756.3 1952.3,755.2 1956.2,756.8 1959,756 1962.9,754.6 1965.7,751.7 1970.7,744.1 1974.6,743.2 1977.4,741.5 1980.7,746.2 1985.8,740.7 1990.8,741.9 1995.8,731.2 2000.8,723.9 2004.7,722.7 2007.5,720.3 2011.4,721.4 2014.2,723.6 2018.1,720.1 2020.9,719.2 2024.8,715.7 2027.6,712.7 2031.4,713.7 2034.2,716 2038.1,711.2 2040.9,709.3 2044.8,712.4 2047.6,713.2 2051.5,715.9 2054.3,718 2058.2,713.9 2061,713.1 2064.9,710 2067.7,709.5 2071.6,712.3 2074.4,716.3 2078.3,712.3 2081.1,712.2 2085,714 2087.8,714.3 2091.6,714.5 2094.4,713.7 2098.3,713.7 2101.1,711.1 2105,712 2107.8,713.9"/>
<polyline stroke="#EC0A12" points="1540,928.8 1545,937.2 1548.9,939.7 1552.8,939.2 1555,941.7 1558.9,941.3 1562.8,943 1567.5,944.2 1571.4,941.1 1575,940.3 1578.9,938.1 1582.5,933.9 1586.4,933.3 1590.3,932.8 1595,934.4 1598.9,932.9 1602.8,934.2 1606.7,933.1 1610.5,931.7 1612.5,932.4 1616.4,931.9 1620.3,932.3 1624.2,930.9 1628,931.5 1630,931.3 1633.9,930.2 1637.8,931.5 1641.7,930.2 1645,930.5 1648.9,930.8 1652.8,930 1656.7,929.4 1660,929 1663.9,927.1 1667.8,928.1 1671.7,928 1675,926.5 1678.9,926.4 1682.8,926.5 1686.7,925.5 1690,925.6 1693.9,925.4 1697.8,922.4 1701.7,923.7 1705,922.5 1708.9,922.2 1712.8,920.8 1716.7,921.8 1720,919.6 1723.9,919.3 1727.8,918.9 1731.7,917.5 1735,916.3 1738.9,914.5 1742.8,914.8 1746.7,914.3 1750,912 1753.9,912.1 1757.8,909.6 1761.7,909.7 1765,908.5 1768.9,906.9 1772.8,908.1 1776.7,905.9 1780,904.3 1783.9,903.9 1787.8,902.1 1791.7,902.7 1795,901.7 1798.9,900.1 1802.8,898.9 1806.7,897.2 1810,898.2 1813.9,895.8 1817.8,895.5 1821.7,895.4 1825,893.2 1828.9,892.6 1832.8,892.8 1836.7,891.6 1840,890.3 1843.9,887.9 1847.8,887.6 1851.7,886.2 1855,886.2 1858.9,886.5 1862.8,884.9 1866.7,885.4 1870,884.3 1873.9,882.6 1877.8,881.7 1881.7,882.1 1885,879.5 1888.9,878.2 1892.8,877.2 1896.7,877.5 1900,876.7 1903.9,874.8 1907.8,873.1 1911.7,872.8 1915,871.9 1918.9,872 1922.8,868.9 1926.7,867.6 1930,867.4 1933.9,866.1 1937.8,864.9 1941.7,864.4 1945,862.2 1948.9,861.9 1952.8,860.9 1956.7,859.3 1960,857.5 1963.9,857.1 1967.8,853.6 1971.7,853.5 1975,852.7 1978.9,851.1 1982.8,848.5 1986.7,848.2 1990,846.6 1993.9,845.2 1997.8,843.6 2001.7,841.9 2005,839.8 2008.9,837.3 2012.8,838.2 2016.7,834.2 2020,833.2 2023.9,833.4 2027.8,830.4 2031.7,827.6 2035,827.1 2038.9,825.2 2042.8,823.2 2046.7,822.8 2050,821.4 2053.9,819.7 2057.8,818.5 2061,816.5 2064.9,817.5 2067.7,815.1 2072.7,811 2077.7,812.1 2081.6,810 2084.4,807.2 2088.3,805.9 2091.1,804.2 2095,801.7 2097.8,800 2101.7,797.3 2104.5,797.7 2107.8,794.7"/>
<polyline stroke="#EC0A12" points="1540,942 1545,950.8 1548.9,950.9 1552.8,955 1555,954.2 1558.9,955.7 1562.8,955.2 1567.5,956.8 1571.4,954.3 1575,951.2 1578.9,945.4 1582.5,941.2 1586.4,940 1590.3,940.7 1595,939.9 1598.9,938.3 1602.8,938.1 1606.7,938.8 1610.5,938.5 1612.5,938.1 1616.4,938.1 1620.3,936.3 1624.2,935.4 1628,936.6 1630,935.9 1633.9,935.7 1637.8,933.8 1641.7,933.7 1645,934.9 1648.9,933.1 1652.8,933.6 1656.7,934.1 1660,933.4 1663.9,933.2 1667.8,930.6 1671.7,931.4 1675,930.4 1678.9,930.9 1682.8,929.4 1686.7,930.9 1690,929.3 1693.9,928 1697.8,928.4 1701.7,926.5 1705,927.4 1708.9,925.2 1712.8,926.1 1716.7,926 1720,924.6 1723.9,923.6 1727.8,924.2 1731.7,923 1735,921.9 1738.9,922.4 1742.8,919.9 1746.7,918.8 1750,918 1753.9,918.2 1757.8,916.4 1761.7,916.3 1765,914.4 1768.9,912.6 1772.8,914.2 1776.7,911.5 1780,911 1783.9,910 1787.8,909.1 1791.7,908.7 1795,908.7 1798.9,907.5 1802.8,905.5 1806.7,904.4 1810,905.4 1813.9,902.7 1817.8,903 1821.7,901.3 1825,900.9 1828.9,900.1 1832.8,899.4 1836.7,899.8 1840,897.5 1843.9,897 1847.8,895.3 1851.7,896.2 1855,894.5 1858.9,894.3 1862.8,894.2 1866.7,892 1870,892 1873.9,890.8 1877.8,890.8 1881.7,890.6 1885,887.9 1888.9,887 1892.8,885.9 1896.7,885.6 1900,884.4 1903.9,882.8 1907.8,882.6 1911.7,882.5 1915,881.5 1918.9,879.4 1922.8,877.7 1926.7,878.3 1930,876.1 1933.9,875.9 1937.8,874.2 1941.7,874.1 1945,871.1 1948.9,869.4 1952.8,868 1956.7,869 1960,866.9 1963.9,864.7 1967.8,863.4 1971.7,863.1 1975,862.3 1978.9,859.7 1982.8,859.2 1986.7,856.6 1990,856.5 1993.9,855 1997.8,852.5 2001.7,851.6 2005,850.4 2008.9,847.6 2012.8,845.7 2016.7,845.5 2020,844.3 2023.9,842.2 2027.8,840.9 2031.7,838.2 2035,837.9 2038.9,835.8 2042.8,835 2046.7,834.6 2050,831.6 2053.9,829.7 2057.8,828 2061,825.9 2064.9,822.9 2067.7,823.1 2071.6,819.9 2074.4,818.9 2078.3,816.3 2081.1,816.2 2085,814.9 2087.8,812.2 2091.6,812.4 2094.4,810.8 2098.3,809.2 2101.1,807.5 2105,804.4 2107.8,804.5"/>
<polyline stroke="#EC0A12" points="1540,943.8 1545,952.3 1548.9,954.5 1552.8,956.1 1555,956.1 1558.9,956.1 1562.8,956.5 1567.5,958.5 1571.4,954.1 1575,951.8 1578.9,947.8 1582.5,943.4 1586.4,943.9 1590.3,941.4 1595,941.3 1598.9,940.3 1602.8,940.6 1606.7,939.4 1610.5,940.6 1612.5,939.7 1616.4,940.5 1620.3,938.1 1624.2,939.5 1628,937.3 1630,937.9 1633.9,938.1 1637.8,936.3 1641.7,936 1645,935.6 1648.9,936.3 1652.8,935.6 1656.7,935.7 1660,934.3 1663.9,933 1667.8,934.4 1671.7,932.5 1675,933.2 1678.9,932.7 1682.8,930.9 1686.7,932.4 1690,931.6 1693.9,930.7 1697.8,931.2 1701.7,930.4 1705,929.1 1708.9,929.1 1712.8,928.2 1716.7,927.2 1720,926.4 1723.9,926 1727.8,925 1731.7,924.1 1735,924.3 1738.9,923.9 1742.8,920.9 1746.7,919.7 1750,920.1 1753.9,919.2 1757.8,917.1 1761.7,918.2 1765,916.1 1768.9,917.1 1772.8,915.4 1776.7,915.3 1780,913.3 1783.9,912.7 1787.8,911.4 1791.7,911.7 1795,910.2 1798.9,907.6 1802.8,907.9 1806.7,907.6 1810,907 1813.9,905.7 1817.8,904.2 1821.7,904.6 1825,902.6 1828.9,900.9 1832.8,902.2 1836.7,899.5 1840,899.2 1843.9,897.9 1847.8,898.2 1851.7,896.7 1855,896.2 1858.9,896.4 1862.8,893.5 1866.7,892.9 1870,894.1 1873.9,893.5 1877.8,893.1 1881.7,889.7 1885,890.6 1888.9,890.3 1892.8,889.7 1896.7,887 1900,886 1903.9,886 1907.8,885.7 1911.7,882.9 1915,883.6 1918.9,880.8 1922.8,882 1926.7,880.1 1930,878.9 1933.9,877 1937.8,874.7 1941.7,875.5 1945,873.2 1948.9,872.6 1952.8,872 1956.7,868.7 1960,869.4 1963.9,867.4 1967.8,866 1971.7,866.3 1975,863.7 1978.9,862.6 1982.8,860.6 1986.7,859.1 1990,857.8 1993.9,855.1 1997.8,853.4 2001.7,852.3 2005,852.1 2008.9,851 2012.8,849.9 2016.7,847.6 2020,845.7 2023.9,844.8 2027.8,841.7 2031.7,840.8 2035,839.3 2038.9,838.7 2042.8,837.7 2046.7,835.4 2050,833.7 2053.9,832.9 2057.8,828.5 2061,828.2 2064.9,827.5 2067.7,825.4 2071.6,821.8 2074.4,820.6 2078.3,819.2 2081.1,819.5 2085,814.8 2087.8,813.6 2091.6,813.4 2094.4,813 2098.3,811.4 2101.1,810.6 2105,807.4 2107.8,807.3"/>
<polyline stroke="#EC0A12" points="1540,945.8 1545,954.6 1548.9,956.6 1552.8,956.1 1555,958.8 1558.9,959.4 1562.8,960.2 1567.5,961.2 1571.4,957 1575,954.7 1578.9,950.2 1582.5,944.9 1586.4,945.5 1590.3,944.7 1595,944.3 1598.9,944.3 1602.8,943.3 1606.7,942.7 1610.5,943.1 1612.5,941.2 1616.4,940.2 1620.3,941.1 1624.2,940.7 1628,941 1630,939.8 1633.9,939.3 1637.8,940 1641.7,937.5 1645,937.9 1648.9,939.3 1652.8,938.2 1656.7,937.7 1660,937 1663.9,935.1 1667.8,935.4 1671.7,934.3 1675,934.1 1678.9,934.1 1682.8,932.7 1686.7,934.4 1690,932.7 1693.9,931.2 1697.8,932 1701.7,930.7 1705,930.4 1708.9,930.8 1712.8,930 1716.7,930.1 1720,929.3 1723.9,927.3 1727.8,927.4 1731.7,926.2 1735,925.7 1738.9,924.3 1742.8,923.5 1746.7,922.8 1750,922.2 1753.9,922.4 1757.8,921.3 1761.7,918.1 1765,918.2 1768.9,918.9 1772.8,918 1776.7,916.1 1780,914.8 1783.9,913.1 1787.8,912.1 1791.7,913.8 1795,912.2 1798.9,911.2 1802.8,910.5 1806.7,908.8 1810,908.5 1813.9,906.8 1817.8,907.4 1821.7,906.2 1825,905.2 1828.9,903.2 1832.8,902 1836.7,901 1840,902 1843.9,901.9 1847.8,900.2 1851.7,899.5 1855,897.9 1858.9,897.4 1862.8,896.1 1866.7,897.3 1870,895.1 1873.9,895.7 1877.8,895 1881.7,892.2 1885,892.4 1888.9,891.1 1892.8,891.4 1896.7,888.6 1900,888.8 1903.9,887.8 1907.8,886.4 1911.7,885.5 1915,884.8 1918.9,884 1922.8,883 1926.7,881.8 1930,879.7 1933.9,880.3 1937.8,878.3 1941.7,876.3 1945,876.1 1948.9,875.6 1952.8,872 1956.7,871.7 1960,870.2 1963.9,870.2 1967.8,868.5 1971.7,866.1 1975,866.1 1978.9,865.4 1982.8,863 1986.7,860.9 1990,859.4 1993.9,857 1997.8,856.3 2001.7,856.1 2005,853.7 2008.9,851.2 2012.8,849.5 2016.7,850.5 2020,848.5 2023.9,845 2027.8,845.3 2031.7,841.8 2035,842.3 2038.9,840.1 2042.8,838.5 2046.7,838 2050,835.9 2053.9,834 2057.8,831.8 2061,830.6 2064.9,829.3 2067.7,827.4 2071.6,823.5 2074.4,823 2078.3,823 2081.1,820.7 2085,817.3 2087.8,817.1 2091.6,816.8 2094.4,815.5 2098.3,813.9 2101.1,811.9 2105,811.7 2107.8,809.1"/>
<polyline stroke="#000000" points="1540,908 1545,919.9 1548.9,925.6 1552.5,929 1556.4,928.8 1560.3,930.8 1562.5,930.9 1567.5,932 1572.5,926.6 1576.4,925.4 1580,922.5 1583.9,922.3 1587.8,920.7 1591.7,920 1595,920.3 1598.9,918.6 1602.8,919.2 1606.7,916.9 1610.5,916.7 1612.5,915.8 1616.4,915 1620.3,914.8 1624.2,914.6 1628,913.6 1630,913.8 1633.9,912.7 1637.8,910.4 1641.7,910 1645,908.3 1648.9,907.8 1652.8,906.8 1656.7,905.8 1660,904.2 1663.9,902.3 1667.8,901.5 1671.7,899.3 1675,897.7 1678.9,894.9 1682.8,893.3 1686.7,892.1 1690,891.7 1693.9,889.2 1697.8,886.1 1701.7,882.5 1705,879.7 1708.9,877.1 1712.8,875.8 1716.7,871.7 1720,870.4 1723.9,866.4 1727.8,862.3 1731.7,857.8 1735,854.7 1738.9,850.2 1742.8,847.3 1746.7,841.3 1750,838.6 1753.9,834.2 1757.8,828.5 1761.7,823.5 1765,820.5 1768.9,813.3 1772.8,808.4 1775,803.8 1778.9,799.9 1782.8,794.8 1785,792.6 1788.9,788 1792.8,784.5 1795,780.8 1798.9,775.8 1802.5,771.4 1806.4,765.1 1808.8,759.5 1812.6,753.5 1815,747.6 1818.9,733.8 1822.8,720.2 1825,712.2 1828.9,700.4 1832.5,687 1840,662.5 1847.5,647.5 1855,636.2 1865,626.2 1872.5,622.5 1881.2,617.5 1890,613.8 1895,608.8 1901.2,606.2 1908.8,605 1912.6,603.5 1917.5,602.5 1921.4,602.9 1925.3,600.8 1927.5,602 1931.4,603.4 1935.3,601.7 1940,603.6 1943.9,605.7 1947.8,604.3 1952.5,606 1956.4,607.6 1960.3,609.2 1965,610.1 1968.9,608 1974,607.5 1977.9,606.9 1982.4,604.9 1986.3,606.7 1990.8,608.2 1994.7,610.7 1999.1,610.8 2003,611.7 2005.8,612.1 2009.7,612.5 2014.2,615.2 2018.1,615.3 2020.9,616.4 2024.8,617.4 2027.6,617.3 2031.4,619.1 2035.9,620.5 2039.8,621 2044.3,622.3 2048.2,623 2052.6,624.2 2056.5,625.6 2061,625.9 2064.9,625.8 2069.4,626.6 2073.3,626 2077.7,625.6 2081.6,626.1 2086.1,626.9 2090,626.7 2094.4,627.6 2098.3,628.5 2101.1,629.1 2105,628 2107.8,627.6"/>
<polyline stroke="#000000" points="1540,911 1545,922.6 1548.9,926.9 1552.5,931.2 1556.4,932.5 1560.3,933.7 1562.5,934 1567.5,935.3 1572.5,929.3 1576.4,926.7 1580,925.3 1583.9,925.1 1587.8,924.4 1591.7,924.6 1595,923.8 1598.9,923 1602.8,921.8 1606.7,920.2 1610.5,920.3 1612.5,919.5 1616.4,918.3 1620.3,917.5 1624.2,917.5 1628,916.7 1630,916.6 1633.9,915.1 1637.8,913.9 1641.7,911.8 1645,911.8 1648.9,911.4 1652.8,908.3 1656.7,908.3 1660,906.9 1663.9,906.1 1667.8,903 1671.7,902.1 1675,900 1678.9,898.1 1682.8,897.5 1686.7,895 1690,893.8 1693.9,892 1697.8,888.6 1701.7,885.9 1705,883 1708.9,881.2 1712.8,878.1 1716.7,875 1720,873.5 1723.9,869.2 1727.8,864.7 1731.7,860.9 1735,858.4 1738.9,854.3 1742.8,849.6 1746.7,845.7 1750,841.6 1753.9,836.3 1757.8,831.1 1761.7,827.6 1765,823 1770,811.6 1773.9,806.1 1777.8,800 1780,797.2 1783.9,793.1 1787.8,789.8 1790,788.3 1793.9,784.8 1797.8,780.5 1801.7,777.4 1805,775.8 1808.9,772.3 1812.8,767.5 1817.5,764.7 1821.4,757.7 1823.8,754.2 1827.5,747.5 1831.4,736.6 1835,724.8 1843.8,700 1850,681.2 1856.2,665 1860,660 1865,650 1871.2,637.5 1877.5,628.8 1881.2,616.2 1887.5,606.2 1891.2,600 1892.1,590.4 1900.5,577 1908.8,565.3 1912.7,558.9 1917.2,554.2 1921.1,549.1 1923.9,546.5 1927.8,546.1 1930.6,546.1 1935.6,540.4 1939.8,541.7 1943.9,538 1949,542.2 1952.8,539.9 1955.7,539.2 1959.5,541 1964,543.2 1969,545.5 1972.9,544.5 1977.4,546.4 1981.3,546.3 1984.1,547.2 1988,545.7 1990.8,544.9 1994.7,546.3 1999.1,547.9 2003,548.5 2005.8,547.3 2009.7,546.6 2014.2,548.3 2018.4,545.3 2022.5,548.3 2027.6,547.5 2031.4,547.1 2035.9,546.6 2039.8,545.5 2044.3,546.2 2049.3,547.8 2053.2,546.5 2057.7,543.5 2061.5,544.3 2064.3,545 2069.4,546.4 2074.4,545.7 2077.7,549.5 2082.7,546.4 2086.6,547.9 2089.4,547.2 2093.3,548.7 2096.1,550.6 2101.1,550.4 2104.5,553.4 2107.8,552"/>
<polyline stroke="#000000" points="1540,921.2 1545,930 1548.9,932.9 1552.5,936 1556.4,936.8 1560.3,937.1 1562.5,937.2 1567.5,940.7 1572.5,934.7 1576.4,933.3 1580,930.5 1583.9,929.4 1587.8,927.6 1591.7,927.2 1595,926.6 1598.9,926.3 1602.8,924.2 1606.7,925.7 1610.5,924.7 1612.5,923.9 1616.4,924 1620.3,921.7 1624.2,921.3 1628,921.9 1630,921.1 1633.9,920.2 1637.8,919.1 1641.7,918.2 1645,915.9 1648.9,915.1 1652.8,915.3 1656.7,913.2 1660,912 1663.9,910.3 1667.8,909.9 1671.7,908 1675,907.4 1678.9,906.1 1682.8,903.9 1686.7,902.8 1690,903 1695,897.6 1698.9,896.3 1702.8,894.4 1705,894.1 1708.9,891.3 1712.8,889.4 1716.7,885 1720,883.6 1723.9,881.9 1727.8,877.8 1731.7,875.9 1735,872.5 1738.9,869.5 1742.8,865.1 1746.7,860.2 1750,857 1753.9,852.5 1757.8,848.8 1761.7,845.7 1765,841.3 1768.9,836.5 1772.8,832.2 1776.7,825.6 1780,822.8 1783.9,816.8 1787.8,813.3 1791.7,808.3 1795,803.6 1798.9,801.3 1802.8,796.6 1805,795 1808.9,793.2 1812.8,790.9 1815,789 1818.9,785 1822.8,779.4 1825,777.4 1828.9,771.2 1832.8,765.3 1835,762.6 1841,748 1848.8,725 1857.5,703.8 1865,687.5 1871.2,681.2 1873.8,665 1880,662.5 1885,653.8 1890,646.2 1897.5,637.5 1903.8,631.2 1911.2,626.2 1915.1,622.6 1920,618.2 1923.9,616.3 1927.8,616.8 1930,615.6 1935,609.6 1937.5,609.1 1941.2,612.1 1945.1,609.8 1947.5,609.9 1951.4,608.5 1955,608.8 1958.9,610.7 1963.8,610.8 1969,608.8 1972.9,610.2 1975.7,612.3 1980.7,606.9 1985.8,608.7 1989.6,610.2 1994.1,612.1 1998,614.2 2000.8,613.2 2004.7,616.6 2007.5,619 2011.4,617.4 2014.2,616.8 2018.1,617.5 2020.9,619 2024.8,619.7 2027.6,620.8 2031.4,620.4 2035.9,622 2039.8,622.2 2044.3,622.9 2048.2,624.3 2052.6,625.4 2056.5,625.5 2061,627.1 2064.9,628.2 2069.4,626.7 2073.3,627.8 2077.7,627.8 2081.6,627.2 2086.1,628.5 2090,628.6 2094.4,630 2098.3,630.2 2102.8,629.9 2107.8,630.2"/>
<polyline stroke="#000000" points="1540,924.2 1545,932.5 1548.9,937.2 1552.5,938.8 1556.4,939.3 1560.3,939.3 1562.5,940 1567.5,944.1 1572.5,938.2 1576.4,936.1 1580,933.1 1583.9,932.7 1587.8,930.5 1591.7,929.2 1595,929.6 1598.9,929.4 1602.8,928 1606.7,926.8 1610.5,926.9 1612.5,926.9 1616.4,926 1620.3,925.4 1624.2,925.4 1628,925.2 1630,924.2 1633.9,922.6 1637.8,920.7 1641.7,920.6 1645,918.9 1648.9,917.9 1652.8,916.3 1656.7,915.7 1660,915.8 1663.9,913.7 1667.8,913.8 1671.7,910.9 1675,910.6 1678.9,908.1 1682.8,908.3 1686.7,907.7 1690,905.6 1695,900.6 1698.9,899.1 1702.8,897.6 1705,896.8 1708.9,894.2 1712.8,892.2 1716.7,887.9 1720,887 1723.9,884.4 1727.8,880.9 1731.7,879.1 1735,876 1738.9,870.9 1742.8,867 1746.7,863 1750,860.4 1753.9,856.4 1757.8,852.8 1761.7,848.6 1765,843.7 1768.9,840.1 1772.8,834.2 1776.7,829.9 1780,825.5 1783.9,820.4 1787.8,815.9 1790,813.8 1793.9,808.9 1797.8,805.2 1801.7,801.2 1805,799.1 1808.9,795.4 1812.8,790.6 1816.7,786.1 1820,784.1 1823.9,781.3 1827.5,780.1 1837.5,773 1845,763 1852.5,748 1858.8,732.5 1865,715 1872.5,698.8 1878.8,687.5 1882.5,678.8 1887.5,673.8 1893.8,658.8 1900,650 1906.2,638.8 1912.5,641.2 1917.5,632.8 1922.5,625 1926.4,623.6 1930,623 1935,622.1 1940,616.3 1943.9,613.7 1947.5,613.1 1951.4,610.5 1955,609.4 1958.9,610.1 1962.8,609.9 1965,611.1 1968.9,608.2 1971.2,607.1 1975.1,609.7 1977.4,609.8 1981.3,610.3 1985.8,611.2 1989.6,611.3 1994.1,613.6 1998,616.2 2002.5,617.5 2006.4,619 2010.8,618.2 2014.7,620.1 2019.2,618.4 2023.1,619.6 2027.6,622.3 2031.4,623.2 2035.9,624 2039.8,624.8 2044.3,626 2048.2,625.4 2052.6,626.7 2056.5,628.2 2061,627.9 2064.9,627 2069.4,627.7 2073.3,629.1 2077.7,628.7 2081.6,629.1 2086.1,629.9 2090,629.2 2094.4,630.6 2098.3,630.7 2102.8,632.5 2107.8,630.9"/>
</g>
<g fill="none" stroke="#000" stroke-width="3.3" stroke-linecap="round">
<path d="M1536.3,49.9V1084.9H2107.8"/>
<path d="M1536.3,164.9V1084.9M1536.3,1084.9H2080.9"/>
<path stroke-width="3.1" d="M1536.3,1084.9v16.2M1614.1,1084.9v16.2M1691.9,1084.9v16.2M1769.8,1084.9v16.2M1847.5,1084.9v16.2M1925.3,1084.9v16.2M2003.1,1084.9v16.2M2080.9,1084.9v16.2M1536.3,1084.9h-16.4M1536.3,854.9h-16.4M1536.3,624.9h-16.4M1536.3,394.9h-16.4M1536.3,164.9h-16.4"/>
</g>
<g font-size="29.2" text-anchor="middle">
<text transform="translate(1536.3,1143.6) scale(1.05,1)">0</text>
<text transform="translate(1614.1,1143.6) scale(1.05,1)">5</text>
<text transform="translate(1691.9,1143.6) scale(1.05,1)">10</text>
<text transform="translate(1769.8,1143.6) scale(1.05,1)">15</text>
<text transform="translate(1847.5,1143.6) scale(1.05,1)">20</text>
<text transform="translate(1925.3,1143.6) scale(1.05,1)">25</text>
<text transform="translate(2003.1,1143.6) scale(1.05,1)">30</text>
<text transform="translate(2080.9,1143.6) scale(1.05,1)">35</text>
<text transform="translate(1497,1084.9) rotate(-90) scale(1,1.06)">0.0</text>
<text transform="translate(1497,854.9) rotate(-90) scale(1,1.06)">0.2</text>
<text transform="translate(1497,624.9) rotate(-90) scale(1,1.06)">0.4</text>
<text transform="translate(1497,394.9) rotate(-90) scale(1,1.06)">0.6</text>
<text transform="translate(1497,164.9) rotate(-90) scale(1,1.06)">0.8</text>
<text x="1822.1" y="1177" textLength="79.6" lengthAdjust="spacingAndGlyphs">Hours</text>
<text transform="translate(1463.8,567.4) rotate(-90) scale(1,1.07)" textLength="94.6" lengthAdjust="spacingAndGlyphs">OD600</text>
</g>
<text x="1822.1" y="29" font-size="33.7" font-weight="bold" text-anchor="middle">10 mM Glycine</text>
<g stroke-width="3.4" stroke-linecap="round" font-size="29.2">
<line x1="1560.9" y1="82.9" x2="1610.6" y2="82.9" stroke="#000000"/>
<text x="1635.5" y="92.8">wt + empty</text>
<line x1="1560.9" y1="115.9" x2="1610.6" y2="115.9" stroke="#EC0A12"/>
<text x="1635.5" y="125.8">cycA− + empty</text>
<line x1="1560.9" y1="148.9" x2="1610.6" y2="148.9" stroke="#08C410"/>
<text x="1635.5" y="158.8">cycA− + cycA</text>
<line x1="1560.9" y1="181.9" x2="1610.6" y2="181.9" stroke="#4C0AEA"/>
<text x="1635.5" y="191.8">cycA− + PGA1_c00920</text>
</g>
</g>
</svg></body></html>
